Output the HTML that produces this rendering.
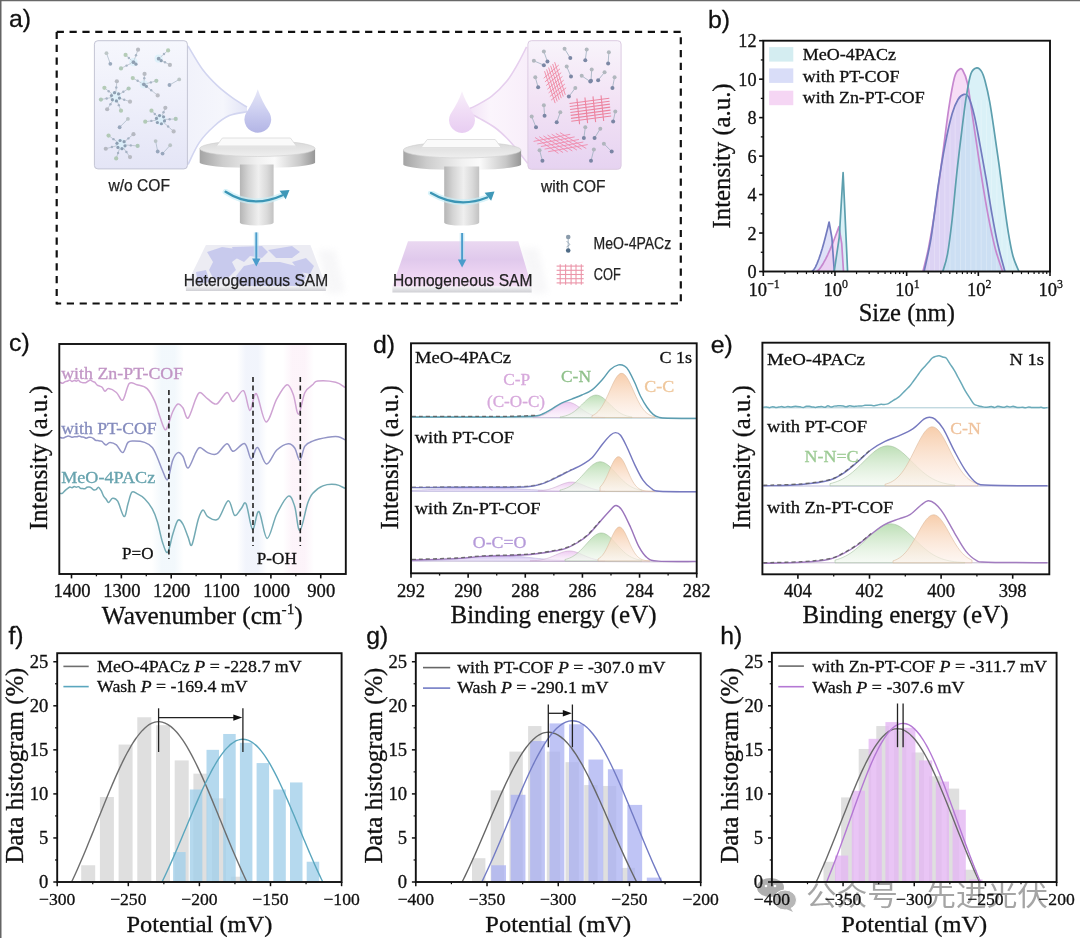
<!DOCTYPE html>
<html><head><meta charset="utf-8"><title>figure</title>
<style>html,body{margin:0;padding:0;background:#fff;overflow:hidden;}svg{display:block;}</style></head>
<body><svg width="1080" height="938" viewBox="0 0 1080 938">
<rect width="1080" height="938" fill="#fff"/>
<g opacity="0.9">
<ellipse cx="770.5" cy="887.5" rx="13.5" ry="9.5" fill="#a6a6a6"/><circle cx="766" cy="886" r="1.3" fill="#fff"/><circle cx="775" cy="886" r="1.3" fill="#fff"/>
<ellipse cx="785" cy="900" rx="11.5" ry="10" fill="#b0b0b0" stroke="#fff" stroke-width="1.0"/><path d="M790,907 L793,912 L786,909 Z" fill="#b0b0b0"/>
<text x="806" y="906" font-size="28" font-family='"Liberation Sans", "Noto Sans CJK SC", sans-serif' fill="#9c9c9c" textLength="242" lengthAdjust="spacingAndGlyphs">公众号 · 先进光伏</text>
</g>
<defs>
<linearGradient id="boxL" x1="0" y1="0" x2="0" y2="1"><stop offset="0" stop-color="#f6f7fd"/><stop offset="0.5" stop-color="#eeeffa"/><stop offset="1" stop-color="#e4e5f6"/></linearGradient>
<linearGradient id="boxR" x1="0" y1="0" x2="0" y2="1"><stop offset="0" stop-color="#f8f4fb"/><stop offset="0.45" stop-color="#f3e3f5"/><stop offset="1" stop-color="#e6d3f1"/></linearGradient>
<linearGradient id="coneL" x1="0" y1="0" x2="1" y2="0"><stop offset="0" stop-color="#f1f2fb"/><stop offset="0.6" stop-color="#f5f6fc"/><stop offset="1" stop-color="#e2e4f6"/></linearGradient>
<linearGradient id="coneR" x1="1" y1="0" x2="0" y2="0"><stop offset="0" stop-color="#f8eefa"/><stop offset="0.6" stop-color="#fbf5fc"/><stop offset="1" stop-color="#f0dff5"/></linearGradient>
<linearGradient id="dropL" x1="0" y1="0" x2="0" y2="1"><stop offset="0" stop-color="#e6e7f7"/><stop offset="0.45" stop-color="#cfd1f1"/><stop offset="0.75" stop-color="#bfc1eb"/><stop offset="1" stop-color="#b3b5e5"/></linearGradient>
<linearGradient id="dropR" x1="0" y1="0" x2="0" y2="1"><stop offset="0" stop-color="#f8f0fa"/><stop offset="0.45" stop-color="#f1def6"/><stop offset="1" stop-color="#e8cdf2"/></linearGradient>
<linearGradient id="metalH" x1="0" y1="0" x2="1" y2="0"><stop offset="0" stop-color="#a4a4a4"/><stop offset="0.2" stop-color="#cdcdcd"/><stop offset="0.5" stop-color="#f1f1f1"/><stop offset="0.65" stop-color="#fafafa"/><stop offset="0.87" stop-color="#c8c8c8"/><stop offset="1" stop-color="#969696"/></linearGradient>
<linearGradient id="shaftH" x1="0" y1="0" x2="1" y2="0"><stop offset="0" stop-color="#b5b5b5"/><stop offset="0.25" stop-color="#d4d4d4"/><stop offset="0.55" stop-color="#efefef"/><stop offset="0.8" stop-color="#dadada"/><stop offset="1" stop-color="#c2c2c2"/></linearGradient>
<linearGradient id="discTop" x1="0" y1="0" x2="0" y2="1"><stop offset="0" stop-color="#d8d8d8"/><stop offset="1" stop-color="#efefef"/></linearGradient>
<linearGradient id="subR" x1="0" y1="0" x2="0" y2="1"><stop offset="0" stop-color="#ead8f1"/><stop offset="0.4" stop-color="#e0c9ec"/><stop offset="0.75" stop-color="#eed5f3"/><stop offset="1" stop-color="#f5def5"/></linearGradient>
<linearGradient id="edgeG" x1="0" y1="0" x2="0" y2="1"><stop offset="0" stop-color="#f4f4f6"/><stop offset="1" stop-color="#cfcfd4"/></linearGradient>
<filter id="soft" x="-20%" y="-20%" width="140%" height="140%"><feGaussianBlur stdDeviation="0.6"/></filter>
<filter id="blur3" x="-30%" y="-30%" width="160%" height="160%"><feGaussianBlur stdDeviation="3"/></filter>
</defs>
<line x1="56.7" y1="31.9" x2="681.8" y2="31.9" stroke="#111" stroke-width="2.2" stroke-dasharray="7.2,5.65"/>
<line x1="56.7" y1="31.9" x2="56.7" y2="304.5" stroke="#111" stroke-width="2.2" stroke-dasharray="7.2,5.65"/>
<line x1="680.8" y1="31.9" x2="680.8" y2="304.5" stroke="#111" stroke-width="2.2" stroke-dasharray="7.2,5.65" stroke-dashoffset="7.6"/>
<line x1="56.7" y1="303.5" x2="681.8" y2="303.5" stroke="#111" stroke-width="2.2" stroke-dasharray="7.2,5.65" stroke-dashoffset="2.75"/>
<path d="M188,46 C190.4,49.88 197.52,62.68 202.4,69.3 C207.28,75.92 212.33,80.97 217.3,85.7 C222.27,90.43 227.25,94.12 232.2,97.7 C237.15,101.28 244.53,105.62 247,107.2 L247,111.8 C244.05,112.43 234.75,113.23 229.3,115.6 C223.85,117.97 219.28,121.53 214.3,126 C209.32,130.47 203.78,135.98 199.4,142.4 C195.02,148.82 189.9,160.82 188,164.5 L187.4,46 Z" fill="url(#coneL)"/>
<path d="M188,46 C190.4,49.88 197.52,62.68 202.4,69.3 C207.28,75.92 212.33,80.97 217.3,85.7 C222.27,90.43 227.25,94.12 232.2,97.7 C237.15,101.28 244.53,105.62 247,107.2" fill="none" stroke="#d2d5f0" stroke-width="1.6" filter="url(#soft)"/>
<path d="M247,111.8 C244.05,112.43 234.75,113.23 229.3,115.6 C223.85,117.97 219.28,121.53 214.3,126 C209.32,130.47 203.78,135.98 199.4,142.4 C195.02,148.82 189.9,160.82 188,164.5" fill="none" stroke="#d2d5f0" stroke-width="1.6" filter="url(#soft)"/>
<rect x="94.4" y="40.7" width="93" height="128.2" rx="3.5" fill="url(#boxL)" stroke="#c3c4d4" stroke-width="1"/>
<g opacity="0.72"><line x1="106.47" y1="53.16" x2="110.34" y2="63.82" stroke="#9fb0bf" stroke-width="0.9"/><circle cx="106.47" cy="53.16" r="1.9" fill="#a9b6b4"/><circle cx="110.34" cy="63.82" r="1.9" fill="#7a8ea6"/><circle cx="133.47" cy="62.16" r="4.1" fill="#d4f0fa" opacity="0.9"/><line x1="131.55" y1="60.41" x2="125.58" y2="54.96" stroke="#a9b6c2" stroke-width="0.9"/><circle cx="128.86" cy="57.96" r="1.2" fill="#8c9db0"/><circle cx="125.58" cy="54.96" r="2.1" fill="#9dbd9d"/><line x1="134.37" y1="59.72" x2="138.04" y2="49.7" stroke="#a9b6c2" stroke-width="0.9"/><circle cx="136.02" cy="55.21" r="1.2" fill="#8c9db0"/><circle cx="138.04" cy="49.7" r="2.1" fill="#a2a6ad"/><line x1="131.15" y1="63.32" x2="121.01" y2="68.39" stroke="#a9b6c2" stroke-width="0.9"/><circle cx="126.59" cy="65.6" r="1.2" fill="#8c9db0"/><circle cx="121.01" cy="68.39" r="2.1" fill="#98b9a0"/><circle cx="133.47" cy="62.16" r="1.9" fill="#6a8197"/><circle cx="135.97" cy="64.16" r="1.6" fill="#6a8197"/><circle cx="158.68" cy="58.7" r="4.1" fill="#d4f0fa" opacity="0.9"/><line x1="160.63" y1="56.98" x2="168.1" y2="50.39" stroke="#a9b6c2" stroke-width="0.9"/><circle cx="163.99" cy="54.01" r="1.2" fill="#8c9db0"/><circle cx="168.1" cy="50.39" r="2.1" fill="#9dbd9d"/><line x1="160.95" y1="59.96" x2="169.9" y2="64.93" stroke="#a9b6c2" stroke-width="0.9"/><circle cx="164.98" cy="62.2" r="1.2" fill="#8c9db0"/><circle cx="169.9" cy="64.93" r="2.1" fill="#a2a6ad"/><circle cx="158.68" cy="58.7" r="1.9" fill="#6a8197"/><circle cx="161.18" cy="60.7" r="1.6" fill="#6a8197"/><circle cx="115.47" cy="96.79" r="5.7" fill="#d4f0fa" opacity="0.9"/><line x1="112.21" y1="94.14" x2="104.39" y2="87.78" stroke="#a9b6c2" stroke-width="0.9"/><circle cx="108.69" cy="91.28" r="1.2" fill="#8c9db0"/><circle cx="104.39" cy="87.78" r="2.1" fill="#9dbd9d"/><line x1="115.84" y1="92.6" x2="116.85" y2="81.27" stroke="#a9b6c2" stroke-width="0.9"/><circle cx="116.3" cy="87.51" r="1.2" fill="#8c9db0"/><circle cx="116.85" cy="81.27" r="2.1" fill="#a2a6ad"/><line x1="119.02" y1="94.54" x2="128.63" y2="88.48" stroke="#a9b6c2" stroke-width="0.9"/><circle cx="123.34" cy="91.81" r="1.2" fill="#8c9db0"/><circle cx="128.63" cy="88.48" r="2.1" fill="#98b9a0"/><line x1="119.45" y1="98.11" x2="130.01" y2="101.63" stroke="#a9b6c2" stroke-width="0.9"/><circle cx="124.2" cy="99.7" r="1.2" fill="#8c9db0"/><circle cx="130.01" cy="101.63" r="2.1" fill="#a6a9ae"/><line x1="117.03" y1="100.69" x2="121.01" y2="110.64" stroke="#a9b6c2" stroke-width="0.9"/><circle cx="118.82" cy="105.16" r="1.2" fill="#8c9db0"/><circle cx="121.01" cy="110.64" r="2.1" fill="#9dbd9d"/><line x1="113.14" y1="100.28" x2="107.16" y2="109.25" stroke="#a9b6c2" stroke-width="0.9"/><circle cx="110.45" cy="104.32" r="1.2" fill="#8c9db0"/><circle cx="107.16" cy="109.25" r="2.1" fill="#a2a6ad"/><line x1="111.34" y1="97.57" x2="100.93" y2="99.56" stroke="#a9b6c2" stroke-width="0.9"/><circle cx="106.65" cy="98.47" r="1.2" fill="#8c9db0"/><circle cx="100.93" cy="99.56" r="2.1" fill="#98b9a0"/><circle cx="119.48" cy="98.03" r="1.6" fill="#6a8197"/><circle cx="116.4" cy="100.88" r="1.6" fill="#6a8197"/><circle cx="112.39" cy="99.64" r="1.6" fill="#6a8197"/><circle cx="111.46" cy="95.55" r="1.6" fill="#6a8197"/><circle cx="114.54" cy="92.69" r="1.6" fill="#6a8197"/><circle cx="118.55" cy="93.93" r="1.6" fill="#6a8197"/><circle cx="143.86" cy="84.32" r="4.1" fill="#d4f0fa" opacity="0.9"/><line x1="141.6" y1="83.05" x2="132.78" y2="78.09" stroke="#a9b6c2" stroke-width="0.9"/><circle cx="137.63" cy="80.82" r="1.2" fill="#8c9db0"/><circle cx="132.78" cy="78.09" r="2.1" fill="#9dbd9d"/><line x1="144.03" y1="81.73" x2="144.55" y2="73.93" stroke="#a9b6c2" stroke-width="0.9"/><circle cx="144.27" cy="78.22" r="1.2" fill="#8c9db0"/><circle cx="144.55" cy="73.93" r="2.1" fill="#a2a6ad"/><line x1="146.37" y1="83.63" x2="156.33" y2="80.86" stroke="#a9b6c2" stroke-width="0.9"/><circle cx="150.85" cy="82.38" r="1.2" fill="#8c9db0"/><circle cx="156.33" cy="80.86" r="2.1" fill="#98b9a0"/><line x1="145.89" y1="85.95" x2="157.71" y2="95.4" stroke="#a9b6c2" stroke-width="0.9"/><circle cx="151.21" cy="90.2" r="1.2" fill="#8c9db0"/><circle cx="157.71" cy="95.4" r="2.1" fill="#a6a9ae"/><circle cx="143.86" cy="84.32" r="1.9" fill="#6a8197"/><circle cx="146.36" cy="86.32" r="1.6" fill="#6a8197"/><line x1="179.18" y1="79.47" x2="169.48" y2="85.01" stroke="#9fb0bf" stroke-width="0.9"/><circle cx="179.18" cy="79.47" r="1.9" fill="#a9b6b4"/><circle cx="169.48" cy="85.01" r="1.9" fill="#7a8ea6"/><circle cx="160.48" cy="119.64" r="5.7" fill="#d4f0fa" opacity="0.9"/><line x1="157.51" y1="116.67" x2="151.48" y2="110.64" stroke="#a9b6c2" stroke-width="0.9"/><circle cx="154.8" cy="113.96" r="1.2" fill="#8c9db0"/><circle cx="151.48" cy="110.64" r="2.1" fill="#9dbd9d"/><line x1="162.08" y1="115.76" x2="165.33" y2="107.87" stroke="#a9b6c2" stroke-width="0.9"/><circle cx="163.54" cy="112.21" r="1.2" fill="#8c9db0"/><circle cx="165.33" cy="107.87" r="2.1" fill="#a2a6ad"/><line x1="164.68" y1="119.45" x2="175.72" y2="118.95" stroke="#a9b6c2" stroke-width="0.9"/><circle cx="169.65" cy="119.22" r="1.2" fill="#8c9db0"/><circle cx="175.72" cy="118.95" r="2.1" fill="#98b9a0"/><line x1="163.61" y1="122.44" x2="173.64" y2="131.41" stroke="#a9b6c2" stroke-width="0.9"/><circle cx="168.12" cy="126.48" r="1.2" fill="#8c9db0"/><circle cx="173.64" cy="131.41" r="2.1" fill="#a6a9ae"/><line x1="156.32" y1="120.21" x2="145.25" y2="121.72" stroke="#a9b6c2" stroke-width="0.9"/><circle cx="151.34" cy="120.89" r="1.2" fill="#8c9db0"/><circle cx="145.25" cy="121.72" r="2.1" fill="#9dbd9d"/><circle cx="164.49" cy="120.88" r="1.6" fill="#6a8197"/><circle cx="161.41" cy="123.74" r="1.6" fill="#6a8197"/><circle cx="157.4" cy="122.49" r="1.6" fill="#6a8197"/><circle cx="156.47" cy="118.4" r="1.6" fill="#6a8197"/><circle cx="159.55" cy="115.54" r="1.6" fill="#6a8197"/><circle cx="163.56" cy="116.79" r="1.6" fill="#6a8197"/><line x1="127.93" y1="118.95" x2="119.62" y2="127.26" stroke="#9fb0bf" stroke-width="0.9"/><circle cx="127.93" cy="118.95" r="1.9" fill="#a9b6b4"/><circle cx="119.62" cy="127.26" r="1.9" fill="#7a8ea6"/><circle cx="121.01" cy="144.57" r="5.7" fill="#d4f0fa" opacity="0.9"/><line x1="117.6" y1="142.11" x2="108.54" y2="135.57" stroke="#a9b6c2" stroke-width="0.9"/><circle cx="113.53" cy="139.17" r="1.2" fill="#8c9db0"/><circle cx="108.54" cy="135.57" r="2.1" fill="#9dbd9d"/><line x1="124.23" y1="141.88" x2="133.47" y2="134.18" stroke="#a9b6c2" stroke-width="0.9"/><circle cx="128.39" cy="138.42" r="1.2" fill="#8c9db0"/><circle cx="133.47" cy="134.18" r="2.1" fill="#a2a6ad"/><line x1="125.19" y1="144.92" x2="137.63" y2="145.96" stroke="#a9b6c2" stroke-width="0.9"/><circle cx="130.79" cy="145.39" r="1.2" fill="#8c9db0"/><circle cx="137.63" cy="145.96" r="2.1" fill="#98b9a0"/><line x1="123.47" y1="147.98" x2="130.01" y2="157.04" stroke="#a9b6c2" stroke-width="0.9"/><circle cx="126.41" cy="152.05" r="1.2" fill="#8c9db0"/><circle cx="130.01" cy="157.04" r="2.1" fill="#a6a9ae"/><line x1="119.62" y1="148.53" x2="116.16" y2="158.42" stroke="#a9b6c2" stroke-width="0.9"/><circle cx="118.06" cy="152.98" r="1.2" fill="#8c9db0"/><circle cx="116.16" cy="158.42" r="2.1" fill="#9dbd9d"/><line x1="116.96" y1="145.68" x2="105.77" y2="148.73" stroke="#a9b6c2" stroke-width="0.9"/><circle cx="111.92" cy="147.05" r="1.2" fill="#8c9db0"/><circle cx="105.77" cy="148.73" r="2.1" fill="#a2a6ad"/><circle cx="125.02" cy="145.81" r="1.6" fill="#6a8197"/><circle cx="121.94" cy="148.67" r="1.6" fill="#6a8197"/><circle cx="117.93" cy="147.42" r="1.6" fill="#6a8197"/><circle cx="117" cy="143.33" r="1.6" fill="#6a8197"/><circle cx="120.08" cy="140.48" r="1.6" fill="#6a8197"/><circle cx="124.09" cy="141.72" r="1.6" fill="#6a8197"/><line x1="155.63" y1="141.11" x2="157.71" y2="151.5" stroke="#9fb0bf" stroke-width="0.9"/><circle cx="155.63" cy="141.11" r="1.9" fill="#a9b6b4"/><circle cx="157.71" cy="151.5" r="1.9" fill="#7a8ea6"/><line x1="170.18" y1="145.26" x2="162.56" y2="153.57" stroke="#9fb0bf" stroke-width="0.9"/><circle cx="170.18" cy="145.26" r="1.9" fill="#a9b6b4"/><circle cx="162.56" cy="153.57" r="1.9" fill="#7a8ea6"/></g>
<path d="M257.8,89.3 Q261.15,100.16 269.8,113.43 A13.4,13.4 0 1 1 245.8,113.43 Q254.45,100.16 257.8,89.3 Z" fill="url(#dropL)" filter="url(#soft)"/>
<path d="M199.7,148.5 L199.7,162.5 A57.7,5.5 0 0 0 315.1,162.5 L315.1,148.5 Z" fill="url(#metalH)"/>
<ellipse cx="257.4" cy="148.5" rx="57.7" ry="8" fill="url(#discTop)" stroke="#cfcfcf" stroke-width="0.6"/>
<path d="M222.4,138 L290.4,138 L296.4,146 L216.4,146 Z" fill="#fafafa" stroke="#d9d9d9" stroke-width="0.8"/>
<path d="M216.4,146 L296.4,146 L296.4,147.8 L216.4,147.8 Z" fill="#e4e4e4"/>
<path d="M239.9,164.5 L239.9,222.5 A16.85,3 0 0 0 273.6,222.5 L273.6,164.5 Z" fill="url(#shaftH)"/>
<path d="M225.6,191.8 Q252,209 282,195.5" fill="none" stroke="#c9eef7" stroke-width="6" stroke-linecap="round" opacity="0.7" filter="url(#soft)"/>
<path d="M225.6,191.8 Q252,209 282,195.5" fill="none" stroke="#3b95b5" stroke-width="2.3" stroke-linecap="round"/>
<path d="M289.5,190 L285.72,199.22 L279.57,190.83 Z" fill="#3f98b8"/>
<path d="M318,250 L335,250 L345,292 L328,294 Z" fill="#e8e8ec" opacity="0.35" filter="url(#blur3)"/>
<path d="M185.9,286 L325.9,286 L325.9,291 L185.9,291 Z" fill="url(#edgeG)"/>
<path d="M205.9,245 L310.4,245 L325.9,286 L185.9,286 Z" fill="#ececf3"/>
<g fill="#c7c9ed" opacity="0.95"><path d="M207,252 L222,247 L236,249 L240,256 L232,262 L236,270 L228,278 L214,280 L209,270 L213,262 Z"/><path d="M232,247 L262,246 L268,252 L262,258 L250,256 L244,262 L236,258 Z"/><path d="M244,266 L262,262 L280,262 L296,266 L306,276 L302,286 L240,286 L236,276 Z"/><path d="M268,250 L292,246 L300,252 L292,258 L276,258 Z"/><path d="M292,262 L306,258 L314,266 L310,274 L300,272 Z"/><path d="M196,272 L206,270 L210,282 L198,284 Z"/></g>
<line x1="256.3" y1="232.4" x2="256.3" y2="259.5" stroke="#bfe3f3" stroke-width="5" opacity="0.6"/>
<line x1="256.3" y1="232.4" x2="256.3" y2="259.5" stroke="#4a9ccb" stroke-width="1.9"/>
<path d="M256.3,266.5 L252.1,258.5 L260.5,258.5 Z" fill="#4a9ccb"/>
<path d="M526.6,46.9 C525.03,49.9 520.52,59.17 517.2,64.9 C513.88,70.63 510.93,76.08 506.7,81.3 C502.47,86.52 496.77,92.23 491.8,96.2 C486.83,100.17 481.28,102.77 476.9,105.1 C472.52,107.43 467.4,109.35 465.5,110.2 L465.5,111.2 C467.9,112.43 475.02,115.88 479.9,118.6 C484.78,121.32 490.33,124.27 494.8,127.5 C499.27,130.73 502.97,134.27 506.7,138 C510.43,141.73 513.72,145.67 517.2,149.9 C520.68,154.13 525.87,161.15 527.6,163.4 L528.4,46.9 Z" fill="url(#coneR)"/>
<path d="M526.6,46.9 C525.03,49.9 520.52,59.17 517.2,64.9 C513.88,70.63 510.93,76.08 506.7,81.3 C502.47,86.52 496.77,92.23 491.8,96.2 C486.83,100.17 481.28,102.77 476.9,105.1 C472.52,107.43 467.4,109.35 465.5,110.2" fill="none" stroke="#e6cfee" stroke-width="1.6" filter="url(#soft)"/>
<path d="M465.5,111.2 C467.9,112.43 475.02,115.88 479.9,118.6 C484.78,121.32 490.33,124.27 494.8,127.5 C499.27,130.73 502.97,134.27 506.7,138 C510.43,141.73 513.72,145.67 517.2,149.9 C520.68,154.13 525.87,161.15 527.6,163.4" fill="none" stroke="#e6cfee" stroke-width="1.6" filter="url(#soft)"/>
<rect x="527.9" y="40.7" width="93.2" height="128.6" rx="3.5" fill="url(#boxR)" stroke="#dccbe2" stroke-width="1"/>
<g opacity="0.85"><line x1="544.55" y1="71.16" x2="555.18" y2="103.12" stroke="#ee7894" stroke-width="0.9"/><line x1="546.58" y1="69.36" x2="557.21" y2="101.46" stroke="#ee7894" stroke-width="0.9"/><line x1="548.6" y1="67.56" x2="559.23" y2="99.81" stroke="#ee7894" stroke-width="0.9"/><line x1="550.63" y1="65.76" x2="561.25" y2="98.16" stroke="#ee7894" stroke-width="0.9"/><line x1="552.65" y1="63.96" x2="563.28" y2="96.51" stroke="#ee7894" stroke-width="0.9"/><line x1="554.67" y1="62.16" x2="565.3" y2="94.85" stroke="#ee7894" stroke-width="0.9"/><line x1="543.73" y1="78.26" x2="558.78" y2="65.04" stroke="#ee7894" stroke-width="0.9"/><line x1="544.95" y1="81.92" x2="560.01" y2="68.82" stroke="#ee7894" stroke-width="0.9"/><line x1="546.18" y1="85.58" x2="561.23" y2="72.61" stroke="#ee7894" stroke-width="0.9"/><line x1="547.4" y1="89.24" x2="562.46" y2="76.4" stroke="#ee7894" stroke-width="0.9"/><line x1="548.62" y1="92.9" x2="563.68" y2="80.19" stroke="#ee7894" stroke-width="0.9"/><line x1="549.85" y1="96.57" x2="564.91" y2="83.98" stroke="#ee7894" stroke-width="0.9"/><line x1="551.07" y1="100.23" x2="566.13" y2="87.76" stroke="#ee7894" stroke-width="0.9"/><line x1="576.9" y1="98.55" x2="579.56" y2="124.24" stroke="#ec7592" stroke-width="1.1"/><line x1="584.94" y1="97.48" x2="587.6" y2="123.16" stroke="#ec7592" stroke-width="1.1"/><line x1="592.98" y1="96.41" x2="595.63" y2="122.09" stroke="#ec7592" stroke-width="1.1"/><line x1="601.01" y1="95.34" x2="603.67" y2="121.02" stroke="#ec7592" stroke-width="1.1"/><line x1="569.44" y1="103.57" x2="609.3" y2="98.25" stroke="#ec7592" stroke-width="1.1"/><line x1="569.74" y1="106.52" x2="609.6" y2="101.21" stroke="#ec7592" stroke-width="1.1"/><line x1="570.05" y1="109.48" x2="609.91" y2="104.17" stroke="#ec7592" stroke-width="1.1"/><line x1="570.36" y1="112.44" x2="610.21" y2="107.13" stroke="#ec7592" stroke-width="1.1"/><line x1="570.66" y1="115.4" x2="610.52" y2="110.09" stroke="#ec7592" stroke-width="1.1"/><line x1="570.97" y1="118.36" x2="610.83" y2="113.05" stroke="#ec7592" stroke-width="1.1"/><line x1="571.28" y1="121.32" x2="611.13" y2="116.01" stroke="#ec7592" stroke-width="1.1"/><line x1="535.12" y1="137.48" x2="558.41" y2="153.42" stroke="#f07ea0" stroke-width="0.9"/><line x1="539.26" y1="136.66" x2="563.05" y2="152.6" stroke="#f07ea0" stroke-width="0.9"/><line x1="543.39" y1="135.84" x2="567.69" y2="151.79" stroke="#f07ea0" stroke-width="0.9"/><line x1="547.53" y1="135.03" x2="572.33" y2="150.97" stroke="#f07ea0" stroke-width="0.9"/><line x1="551.66" y1="134.21" x2="576.97" y2="150.16" stroke="#f07ea0" stroke-width="0.9"/><line x1="555.8" y1="133.4" x2="581.61" y2="149.34" stroke="#f07ea0" stroke-width="0.9"/><line x1="559.93" y1="132.58" x2="586.25" y2="148.52" stroke="#f07ea0" stroke-width="0.9"/><line x1="533.59" y1="141.4" x2="570.26" y2="134.31" stroke="#f07ea0" stroke-width="0.9"/><line x1="537.24" y1="143.97" x2="574.62" y2="136.89" stroke="#f07ea0" stroke-width="0.9"/><line x1="540.89" y1="146.54" x2="578.97" y2="139.46" stroke="#f07ea0" stroke-width="0.9"/><line x1="544.53" y1="149.11" x2="583.33" y2="142.03" stroke="#f07ea0" stroke-width="0.9"/><line x1="548.18" y1="151.69" x2="587.68" y2="144.6" stroke="#f07ea0" stroke-width="0.9"/></g>
<g opacity="0.9"><line x1="543.86" y1="51.57" x2="547.43" y2="61.57" stroke="#9fb0bf" stroke-width="0.9"/><circle cx="543.86" cy="51.57" r="2" fill="#aab2b8"/><circle cx="547.43" cy="61.57" r="2" fill="#6f7d9c"/><line x1="533.86" y1="60.86" x2="543.86" y2="65.14" stroke="#9fb0bf" stroke-width="0.9"/><circle cx="533.86" cy="60.86" r="2" fill="#aab2b8"/><circle cx="543.86" cy="65.14" r="2" fill="#6f7d9c"/><line x1="564.57" y1="48.71" x2="570.29" y2="58" stroke="#9fb0bf" stroke-width="0.9"/><circle cx="564.57" cy="48.71" r="2" fill="#aab2b8"/><circle cx="570.29" cy="58" r="2" fill="#6f7d9c"/><line x1="586.71" y1="49.43" x2="585.29" y2="60.14" stroke="#9fb0bf" stroke-width="0.9"/><circle cx="586.71" cy="49.43" r="2" fill="#aab2b8"/><circle cx="585.29" cy="60.14" r="2" fill="#6f7d9c"/><line x1="608.86" y1="52.29" x2="608.14" y2="63.43" stroke="#9fb0bf" stroke-width="0.9"/><circle cx="608.86" cy="52.29" r="2" fill="#aab2b8"/><circle cx="608.14" cy="63.43" r="2" fill="#6f7d9c"/><line x1="566.71" y1="66.57" x2="571" y2="76.57" stroke="#9fb0bf" stroke-width="0.9"/><circle cx="566.71" cy="66.57" r="2" fill="#aab2b8"/><circle cx="571" cy="76.57" r="2" fill="#6f7d9c"/><line x1="591.71" y1="69.43" x2="591" y2="80.86" stroke="#9fb0bf" stroke-width="0.9"/><circle cx="591.71" cy="69.43" r="2" fill="#aab2b8"/><circle cx="591" cy="80.86" r="2" fill="#6f7d9c"/><line x1="581.71" y1="75.86" x2="590.29" y2="81.57" stroke="#9fb0bf" stroke-width="0.9"/><circle cx="581.71" cy="75.86" r="2" fill="#aab2b8"/><circle cx="590.29" cy="81.57" r="2" fill="#6f7d9c"/><line x1="604.57" y1="72.29" x2="598.14" y2="80.14" stroke="#9fb0bf" stroke-width="0.9"/><circle cx="604.57" cy="72.29" r="2" fill="#aab2b8"/><circle cx="598.14" cy="80.14" r="2" fill="#6f7d9c"/><line x1="535.29" y1="77.29" x2="538.14" y2="87.29" stroke="#9fb0bf" stroke-width="0.9"/><circle cx="535.29" cy="77.29" r="2" fill="#aab2b8"/><circle cx="538.14" cy="87.29" r="2" fill="#6f7d9c"/><line x1="614.57" y1="77.29" x2="612.43" y2="88" stroke="#9fb0bf" stroke-width="0.9"/><circle cx="614.57" cy="77.29" r="2" fill="#aab2b8"/><circle cx="612.43" cy="88" r="2" fill="#6f7d9c"/><line x1="575.29" y1="88" x2="568.86" y2="96.57" stroke="#9fb0bf" stroke-width="0.9"/><circle cx="575.29" cy="88" r="2" fill="#aab2b8"/><circle cx="568.86" cy="96.57" r="2" fill="#6f7d9c"/><line x1="543.86" y1="105.14" x2="544.57" y2="115.86" stroke="#9fb0bf" stroke-width="0.9"/><circle cx="543.86" cy="105.14" r="2" fill="#aab2b8"/><circle cx="544.57" cy="115.86" r="2" fill="#6f7d9c"/><line x1="560.29" y1="112.29" x2="556.71" y2="122.29" stroke="#9fb0bf" stroke-width="0.9"/><circle cx="560.29" cy="112.29" r="2" fill="#aab2b8"/><circle cx="556.71" cy="122.29" r="2" fill="#6f7d9c"/><line x1="531.71" y1="116.57" x2="536" y2="127.29" stroke="#9fb0bf" stroke-width="0.9"/><circle cx="531.71" cy="116.57" r="2" fill="#aab2b8"/><circle cx="536" cy="127.29" r="2" fill="#6f7d9c"/><line x1="615.29" y1="111.57" x2="613.14" y2="121.57" stroke="#9fb0bf" stroke-width="0.9"/><circle cx="615.29" cy="111.57" r="2" fill="#aab2b8"/><circle cx="613.14" cy="121.57" r="2" fill="#6f7d9c"/><line x1="585.29" y1="127.29" x2="583.86" y2="138" stroke="#9fb0bf" stroke-width="0.9"/><circle cx="585.29" cy="127.29" r="2" fill="#aab2b8"/><circle cx="583.86" cy="138" r="2" fill="#6f7d9c"/><line x1="600.29" y1="128.71" x2="594.57" y2="138" stroke="#9fb0bf" stroke-width="0.9"/><circle cx="600.29" cy="128.71" r="2" fill="#aab2b8"/><circle cx="594.57" cy="138" r="2" fill="#6f7d9c"/><line x1="603.86" y1="143.71" x2="611.71" y2="151.57" stroke="#9fb0bf" stroke-width="0.9"/><circle cx="603.86" cy="143.71" r="2" fill="#aab2b8"/><circle cx="611.71" cy="151.57" r="2" fill="#6f7d9c"/><line x1="539.57" y1="150.14" x2="542.43" y2="160.86" stroke="#9fb0bf" stroke-width="0.9"/><circle cx="539.57" cy="150.14" r="2" fill="#aab2b8"/><circle cx="542.43" cy="160.86" r="2" fill="#6f7d9c"/><line x1="593.86" y1="149.43" x2="591" y2="160.86" stroke="#9fb0bf" stroke-width="0.9"/><circle cx="593.86" cy="149.43" r="2" fill="#aab2b8"/><circle cx="591" cy="160.86" r="2" fill="#6f7d9c"/></g>
<path d="M462,91.2 Q465.25,101.52 473.6,114.13 A13,13 0 1 1 450.4,114.13 Q458.75,101.52 462,91.2 Z" fill="url(#dropR)" filter="url(#soft)"/>
<path d="M403.3,150 L403.3,164.5 A58.9,5.5 0 0 0 521.1,164.5 L521.1,150 Z" fill="url(#metalH)"/>
<ellipse cx="462.2" cy="150" rx="58.9" ry="8" fill="url(#discTop)" stroke="#cfcfcf" stroke-width="0.6"/>
<path d="M427.2,139.5 L495.2,139.5 L501.2,147.5 L421.2,147.5 Z" fill="#fafafa" stroke="#d9d9d9" stroke-width="0.8"/>
<path d="M421.2,147.5 L501.2,147.5 L501.2,149.3 L421.2,149.3 Z" fill="#e4e4e4"/>
<path d="M444.2,166.5 L444.2,222.6 A17.5,3 0 0 0 479.2,222.6 L479.2,166.5 Z" fill="url(#shaftH)"/>
<path d="M431,193 Q458,209 487,197.5" fill="none" stroke="#c9eef7" stroke-width="6" stroke-linecap="round" opacity="0.7" filter="url(#soft)"/>
<path d="M431,193 Q458,209 487,197.5" fill="none" stroke="#3b95b5" stroke-width="2.3" stroke-linecap="round"/>
<path d="M494.5,191.5 L491.11,200.87 L484.61,192.75 Z" fill="#3f98b8"/>
<path d="M520,248 L538,248 L548,292 L532,294 Z" fill="#e8e8ec" opacity="0.35" filter="url(#blur3)"/>
<path d="M392.4,286.5 L531.7,286.5 L531.7,292.4 L392.4,292.4 Z" fill="url(#edgeG)"/>
<path d="M408,241.3 L518.3,241.3 L531.7,286.5 L392.4,286.5 Z" fill="url(#subR)"/>
<line x1="462.1" y1="233" x2="462.1" y2="260.5" stroke="#bfe3f3" stroke-width="5" opacity="0.6"/>
<line x1="462.1" y1="233" x2="462.1" y2="260.5" stroke="#4a9ccb" stroke-width="1.9"/>
<path d="M462.1,267.5 L457.9,259.5 L466.3,259.5 Z" fill="#4a9ccb"/>
<line x1="568.2" y1="237" x2="568.2" y2="250.5" stroke="#9fb0bf" stroke-width="0.9"/><circle cx="568.2" cy="237" r="2.3" fill="#8a9bab"/><circle cx="568.2" cy="250.5" r="2.3" fill="#4f6b86"/>
<line x1="566.5" y1="241" x2="570" y2="244.5" stroke="#8fa0b0" stroke-width="0.8"/><line x1="570" y1="244.5" x2="566.5" y2="247" stroke="#8fa0b0" stroke-width="0.8"/>
<g opacity="0.9"><line x1="560.2" y1="264.3" x2="560.2" y2="284.8" stroke="#e98aa0" stroke-width="1.1"/><line x1="565.6" y1="264.3" x2="565.6" y2="284.8" stroke="#e98aa0" stroke-width="1.1"/><line x1="571.1" y1="264.3" x2="571.1" y2="284.8" stroke="#e98aa0" stroke-width="1.1"/><line x1="576" y1="264.3" x2="576" y2="284.8" stroke="#e98aa0" stroke-width="1.1"/><line x1="581.3" y1="264.3" x2="581.3" y2="284.8" stroke="#e98aa0" stroke-width="1.1"/><line x1="556.6" y1="266.1" x2="583.7" y2="266.1" stroke="#e98aa0" stroke-width="1.1"/><line x1="556.6" y1="270.3" x2="583.7" y2="270.3" stroke="#e98aa0" stroke-width="1.1"/><line x1="556.6" y1="274.5" x2="583.7" y2="274.5" stroke="#e98aa0" stroke-width="1.1"/><line x1="556.6" y1="278.7" x2="583.7" y2="278.7" stroke="#e98aa0" stroke-width="1.1"/><line x1="556.6" y1="282.9" x2="583.7" y2="282.9" stroke="#e98aa0" stroke-width="1.1"/></g>
<text transform="translate(108.5,191.2)" font-size="16.3" text-anchor="start" font-family='"Liberation Sans", Arial, sans-serif' fill="#222" textLength="61.5" lengthAdjust="spacingAndGlyphs" stroke="#222" stroke-width="0.25">w/o COF</text>
<text transform="translate(541,191.8)" font-size="16.3" text-anchor="start" font-family='"Liberation Sans", Arial, sans-serif' fill="#222" textLength="64.6" lengthAdjust="spacingAndGlyphs" stroke="#222" stroke-width="0.25">with COF</text>
<text transform="translate(183.7,285.5)" font-size="16.5" text-anchor="start" font-family='"Liberation Sans", Arial, sans-serif' fill="#222" textLength="144.4" lengthAdjust="spacingAndGlyphs" stroke="#222" stroke-width="0.25">Heterogeneous SAM</text>
<text transform="translate(393.1,285.5)" font-size="16.5" text-anchor="start" font-family='"Liberation Sans", Arial, sans-serif' fill="#222" textLength="139.3" lengthAdjust="spacingAndGlyphs" stroke="#222" stroke-width="0.25">Homogeneous SAM</text>
<text transform="translate(593.6,248.6)" font-size="16" text-anchor="start" font-family='"Liberation Sans", Arial, sans-serif' fill="#222" textLength="77.6" lengthAdjust="spacingAndGlyphs" stroke="#222" stroke-width="0.25">MeO-4PACz</text>
<text transform="translate(593.8,280)" font-size="16" text-anchor="start" font-family='"Liberation Sans", Arial, sans-serif' fill="#222" textLength="27" lengthAdjust="spacingAndGlyphs" stroke="#222" stroke-width="0.25">COF</text>
<rect x="769.1" y="47.1" width="24.2" height="14.5" fill="#d4edf1"/>
<rect x="769.1" y="68.4" width="24.2" height="14.5" fill="#d9ddf8"/>
<rect x="769.1" y="90.7" width="24.2" height="14.5" fill="#f5d6f4"/>
<path d="M922.9,271.5 C923.87,267.45 926.55,258.28 928.7,247.2 C930.85,236.12 933.45,220.63 935.8,205 C938.15,189.37 940.65,169.42 942.8,153.4 C944.95,137.38 946.75,121.58 948.7,108.9 C950.65,96.22 952.75,83.87 954.5,77.3 C956.25,70.73 957.83,70.68 959.2,69.5 C960.57,68.32 961.33,67.93 962.7,70.2 C964.07,72.47 965.83,75.87 967.4,83.1 C968.97,90.33 970.33,101.88 972.1,113.6 C973.87,125.32 976.05,140.52 978,153.4 C979.95,166.28 981.85,179.18 983.8,190.9 C985.75,202.62 987.75,213.93 989.7,223.7 C991.65,233.47 993.35,241.53 995.5,249.5 C997.65,257.47 1001.42,267.83 1002.6,271.5 Z" fill="#f2c6f0" fill-opacity="0.6"/>
<path d="M924.1,271.5 C925.27,265.88 928.77,252.02 931.1,237.8 C933.43,223.58 935.75,201.82 938.1,186.2 C940.45,170.58 942.85,156.2 945.2,144.1 C947.55,132 950.07,121.03 952.2,113.6 C954.33,106.17 956.05,102.7 958,99.5 C959.95,96.3 962.13,94.78 963.9,94.4 C965.67,94.02 966.85,93.62 968.6,97.2 C970.35,100.78 972.45,107.7 974.4,115.9 C976.35,124.1 978.33,135.85 980.3,146.4 C982.27,156.95 984.25,167.87 986.2,179.2 C988.15,190.53 990.05,203.47 992,214.4 C993.95,225.33 995.75,235.28 997.9,244.8 C1000.05,254.32 1003.73,267.05 1004.9,271.5 Z" fill="#c9cdf4" fill-opacity="0.6"/>
<path d="M942.8,271.5 C943.58,268.62 945.93,262.95 947.5,254.2 C949.07,245.45 950.63,232.67 952.2,219 C953.77,205.33 955.33,186.65 956.9,172.2 C958.47,157.75 960.05,144.8 961.6,132.3 C963.15,119.8 964.65,106.97 966.2,97.2 C967.75,87.43 969.13,78.58 970.9,73.7 C972.67,68.82 975.03,68.28 976.8,67.9 C978.57,67.52 980.13,69.25 981.5,71.4 C982.87,73.55 983.63,75.72 985,80.8 C986.37,85.88 988.13,93.32 989.7,101.9 C991.27,110.48 992.83,121.77 994.4,132.3 C995.97,142.83 997.55,153.77 999.1,165.1 C1000.65,176.43 1002.15,188.97 1003.7,200.3 C1005.25,211.63 1006.83,223.73 1008.4,233.1 C1009.97,242.47 1011.33,250.1 1013.1,256.5 C1014.87,262.9 1018.02,269 1019,271.5 Z" fill="#c2e7f1" fill-opacity="0.6"/>
<path d="M812,271.5 L813.71,269.93 L815.42,267.07 L817.13,263.37 L818.84,258.98 L820.55,254 L822.26,248.49 L823.97,242.51 L825.68,236.08 L827.39,229.24 L829.1,222 L831.9,237.8 L834.3,271.5 Z" fill="#c9cdf4" fill-opacity="0.6"/>
<path d="M816.7,271.5 L818.92,269.72 L821.14,266.79 L823.36,263.2 L825.58,259.08 L827.8,254.52 L830.02,249.59 L832.24,244.31 L834.46,238.72 L836.68,232.84 L838.9,226.7 L841.7,243.3 L843.5,271.5 Z" fill="#f2c6f0" fill-opacity="0.6"/>
<path d="M834.2,271.5 L839.3,236.8 L843.1,172.6 L847.6,271.5 Z" fill="#c2e7f1" fill-opacity="0.6"/>
<line x1="924" y1="100" x2="924" y2="271.5" stroke="#ffffff" stroke-width="0.7" opacity="0.35"/>
<line x1="929.2" y1="100" x2="929.2" y2="271.5" stroke="#ffffff" stroke-width="0.7" opacity="0.35"/>
<line x1="934.4" y1="100" x2="934.4" y2="271.5" stroke="#ffffff" stroke-width="0.7" opacity="0.35"/>
<line x1="939.6" y1="100" x2="939.6" y2="271.5" stroke="#ffffff" stroke-width="0.7" opacity="0.35"/>
<line x1="944.8" y1="100" x2="944.8" y2="271.5" stroke="#ffffff" stroke-width="0.7" opacity="0.35"/>
<line x1="950" y1="100" x2="950" y2="271.5" stroke="#ffffff" stroke-width="0.7" opacity="0.35"/>
<line x1="955.2" y1="100" x2="955.2" y2="271.5" stroke="#ffffff" stroke-width="0.7" opacity="0.35"/>
<line x1="960.4" y1="100" x2="960.4" y2="271.5" stroke="#ffffff" stroke-width="0.7" opacity="0.35"/>
<line x1="965.6" y1="100" x2="965.6" y2="271.5" stroke="#ffffff" stroke-width="0.7" opacity="0.35"/>
<line x1="970.8" y1="100" x2="970.8" y2="271.5" stroke="#ffffff" stroke-width="0.7" opacity="0.35"/>
<line x1="976" y1="100" x2="976" y2="271.5" stroke="#ffffff" stroke-width="0.7" opacity="0.35"/>
<line x1="981.2" y1="100" x2="981.2" y2="271.5" stroke="#ffffff" stroke-width="0.7" opacity="0.35"/>
<line x1="986.4" y1="100" x2="986.4" y2="271.5" stroke="#ffffff" stroke-width="0.7" opacity="0.35"/>
<line x1="991.6" y1="100" x2="991.6" y2="271.5" stroke="#ffffff" stroke-width="0.7" opacity="0.35"/>
<line x1="996.8" y1="100" x2="996.8" y2="271.5" stroke="#ffffff" stroke-width="0.7" opacity="0.35"/>
<line x1="1002" y1="100" x2="1002" y2="271.5" stroke="#ffffff" stroke-width="0.7" opacity="0.35"/>
<line x1="1007.2" y1="100" x2="1007.2" y2="271.5" stroke="#ffffff" stroke-width="0.7" opacity="0.35"/>
<line x1="1012.4" y1="100" x2="1012.4" y2="271.5" stroke="#ffffff" stroke-width="0.7" opacity="0.35"/>
<line x1="1017.6" y1="100" x2="1017.6" y2="271.5" stroke="#ffffff" stroke-width="0.7" opacity="0.35"/>
<path d="M922.9,271.5 C923.87,267.45 926.55,258.28 928.7,247.2 C930.85,236.12 933.45,220.63 935.8,205 C938.15,189.37 940.65,169.42 942.8,153.4 C944.95,137.38 946.75,121.58 948.7,108.9 C950.65,96.22 952.75,83.87 954.5,77.3 C956.25,70.73 957.83,70.68 959.2,69.5 C960.57,68.32 961.33,67.93 962.7,70.2 C964.07,72.47 965.83,75.87 967.4,83.1 C968.97,90.33 970.33,101.88 972.1,113.6 C973.87,125.32 976.05,140.52 978,153.4 C979.95,166.28 981.85,179.18 983.8,190.9 C985.75,202.62 987.75,213.93 989.7,223.7 C991.65,233.47 993.35,241.53 995.5,249.5 C997.65,257.47 1001.42,267.83 1002.6,271.5" fill="none" stroke="#c687cf" stroke-width="1.7" stroke-linejoin="round"/>
<path d="M924.1,271.5 C925.27,265.88 928.77,252.02 931.1,237.8 C933.43,223.58 935.75,201.82 938.1,186.2 C940.45,170.58 942.85,156.2 945.2,144.1 C947.55,132 950.07,121.03 952.2,113.6 C954.33,106.17 956.05,102.7 958,99.5 C959.95,96.3 962.13,94.78 963.9,94.4 C965.67,94.02 966.85,93.62 968.6,97.2 C970.35,100.78 972.45,107.7 974.4,115.9 C976.35,124.1 978.33,135.85 980.3,146.4 C982.27,156.95 984.25,167.87 986.2,179.2 C988.15,190.53 990.05,203.47 992,214.4 C993.95,225.33 995.75,235.28 997.9,244.8 C1000.05,254.32 1003.73,267.05 1004.9,271.5" fill="none" stroke="#737bbf" stroke-width="1.7" stroke-linejoin="round"/>
<path d="M942.8,271.5 C943.58,268.62 945.93,262.95 947.5,254.2 C949.07,245.45 950.63,232.67 952.2,219 C953.77,205.33 955.33,186.65 956.9,172.2 C958.47,157.75 960.05,144.8 961.6,132.3 C963.15,119.8 964.65,106.97 966.2,97.2 C967.75,87.43 969.13,78.58 970.9,73.7 C972.67,68.82 975.03,68.28 976.8,67.9 C978.57,67.52 980.13,69.25 981.5,71.4 C982.87,73.55 983.63,75.72 985,80.8 C986.37,85.88 988.13,93.32 989.7,101.9 C991.27,110.48 992.83,121.77 994.4,132.3 C995.97,142.83 997.55,153.77 999.1,165.1 C1000.65,176.43 1002.15,188.97 1003.7,200.3 C1005.25,211.63 1006.83,223.73 1008.4,233.1 C1009.97,242.47 1011.33,250.1 1013.1,256.5 C1014.87,262.9 1018.02,269 1019,271.5" fill="none" stroke="#5d9fae" stroke-width="1.7" stroke-linejoin="round"/>
<path d="M816.7,271.5 L818.92,269.72 L821.14,266.79 L823.36,263.2 L825.58,259.08 L827.8,254.52 L830.02,249.59 L832.24,244.31 L834.46,238.72 L836.68,232.84 L838.9,226.7 L841.7,243.3 L843.5,271.5" fill="none" stroke="#c687cf" stroke-width="1.7" stroke-linejoin="round"/>
<path d="M812,271.5 L813.71,269.93 L815.42,267.07 L817.13,263.37 L818.84,258.98 L820.55,254 L822.26,248.49 L823.97,242.51 L825.68,236.08 L827.39,229.24 L829.1,222 L831.9,237.8 L834.3,271.5" fill="none" stroke="#737bbf" stroke-width="1.7" stroke-linejoin="round"/>
<path d="M834.2,271.5 L839.3,236.8 L843.1,172.6 L847.6,271.5" fill="none" stroke="#5d9fae" stroke-width="1.7" stroke-linejoin="round"/>
<rect x="763.3" y="40.7" width="286.7" height="230.8" fill="none" stroke="#111" stroke-width="1.9"/>
<line x1="759.1" y1="271.5" x2="763.3" y2="271.5" stroke="#111" stroke-width="1.6"/>
<text transform="translate(756.6,278) scale(0.95,1)" font-size="19.2" text-anchor="end" font-family='"Liberation Serif", "Times New Roman", serif' fill="#111" stroke="#111" stroke-width="0.3">0</text>
<line x1="760.8" y1="252.27" x2="763.3" y2="252.27" stroke="#111" stroke-width="1.3"/>
<line x1="759.1" y1="233.03" x2="763.3" y2="233.03" stroke="#111" stroke-width="1.6"/>
<text transform="translate(756.6,239.53) scale(0.95,1)" font-size="19.2" text-anchor="end" font-family='"Liberation Serif", "Times New Roman", serif' fill="#111" stroke="#111" stroke-width="0.3">2</text>
<line x1="760.8" y1="213.8" x2="763.3" y2="213.8" stroke="#111" stroke-width="1.3"/>
<line x1="759.1" y1="194.57" x2="763.3" y2="194.57" stroke="#111" stroke-width="1.6"/>
<text transform="translate(756.6,201.07) scale(0.95,1)" font-size="19.2" text-anchor="end" font-family='"Liberation Serif", "Times New Roman", serif' fill="#111" stroke="#111" stroke-width="0.3">4</text>
<line x1="760.8" y1="175.33" x2="763.3" y2="175.33" stroke="#111" stroke-width="1.3"/>
<line x1="759.1" y1="156.1" x2="763.3" y2="156.1" stroke="#111" stroke-width="1.6"/>
<text transform="translate(756.6,162.6) scale(0.95,1)" font-size="19.2" text-anchor="end" font-family='"Liberation Serif", "Times New Roman", serif' fill="#111" stroke="#111" stroke-width="0.3">6</text>
<line x1="760.8" y1="136.87" x2="763.3" y2="136.87" stroke="#111" stroke-width="1.3"/>
<line x1="759.1" y1="117.63" x2="763.3" y2="117.63" stroke="#111" stroke-width="1.6"/>
<text transform="translate(756.6,124.13) scale(0.95,1)" font-size="19.2" text-anchor="end" font-family='"Liberation Serif", "Times New Roman", serif' fill="#111" stroke="#111" stroke-width="0.3">8</text>
<line x1="760.8" y1="98.4" x2="763.3" y2="98.4" stroke="#111" stroke-width="1.3"/>
<line x1="759.1" y1="79.17" x2="763.3" y2="79.17" stroke="#111" stroke-width="1.6"/>
<text transform="translate(756.6,85.67) scale(0.95,1)" font-size="19.2" text-anchor="end" font-family='"Liberation Serif", "Times New Roman", serif' fill="#111" stroke="#111" stroke-width="0.3">10</text>
<line x1="760.8" y1="59.93" x2="763.3" y2="59.93" stroke="#111" stroke-width="1.3"/>
<line x1="759.1" y1="40.7" x2="763.3" y2="40.7" stroke="#111" stroke-width="1.6"/>
<text transform="translate(756.6,47.2) scale(0.95,1)" font-size="19.2" text-anchor="end" font-family='"Liberation Serif", "Times New Roman", serif' fill="#111" stroke="#111" stroke-width="0.3">12</text>
<line x1="763.3" y1="271.5" x2="763.3" y2="276" stroke="#111" stroke-width="1.6"/>
<line x1="784.88" y1="271.5" x2="784.88" y2="274.1" stroke="#111" stroke-width="1.2"/>
<line x1="797.5" y1="271.5" x2="797.5" y2="274.1" stroke="#111" stroke-width="1.2"/>
<line x1="806.45" y1="271.5" x2="806.45" y2="274.1" stroke="#111" stroke-width="1.2"/>
<line x1="813.4" y1="271.5" x2="813.4" y2="274.1" stroke="#111" stroke-width="1.2"/>
<line x1="819.07" y1="271.5" x2="819.07" y2="274.1" stroke="#111" stroke-width="1.2"/>
<line x1="823.87" y1="271.5" x2="823.87" y2="274.1" stroke="#111" stroke-width="1.2"/>
<line x1="828.03" y1="271.5" x2="828.03" y2="274.1" stroke="#111" stroke-width="1.2"/>
<line x1="831.7" y1="271.5" x2="831.7" y2="274.1" stroke="#111" stroke-width="1.2"/>
<line x1="834.97" y1="271.5" x2="834.97" y2="276" stroke="#111" stroke-width="1.6"/>
<line x1="856.55" y1="271.5" x2="856.55" y2="274.1" stroke="#111" stroke-width="1.2"/>
<line x1="869.17" y1="271.5" x2="869.17" y2="274.1" stroke="#111" stroke-width="1.2"/>
<line x1="878.13" y1="271.5" x2="878.13" y2="274.1" stroke="#111" stroke-width="1.2"/>
<line x1="885.07" y1="271.5" x2="885.07" y2="274.1" stroke="#111" stroke-width="1.2"/>
<line x1="890.75" y1="271.5" x2="890.75" y2="274.1" stroke="#111" stroke-width="1.2"/>
<line x1="895.55" y1="271.5" x2="895.55" y2="274.1" stroke="#111" stroke-width="1.2"/>
<line x1="899.7" y1="271.5" x2="899.7" y2="274.1" stroke="#111" stroke-width="1.2"/>
<line x1="903.37" y1="271.5" x2="903.37" y2="274.1" stroke="#111" stroke-width="1.2"/>
<line x1="906.65" y1="271.5" x2="906.65" y2="276" stroke="#111" stroke-width="1.6"/>
<line x1="928.23" y1="271.5" x2="928.23" y2="274.1" stroke="#111" stroke-width="1.2"/>
<line x1="940.85" y1="271.5" x2="940.85" y2="274.1" stroke="#111" stroke-width="1.2"/>
<line x1="949.8" y1="271.5" x2="949.8" y2="274.1" stroke="#111" stroke-width="1.2"/>
<line x1="956.75" y1="271.5" x2="956.75" y2="274.1" stroke="#111" stroke-width="1.2"/>
<line x1="962.42" y1="271.5" x2="962.42" y2="274.1" stroke="#111" stroke-width="1.2"/>
<line x1="967.22" y1="271.5" x2="967.22" y2="274.1" stroke="#111" stroke-width="1.2"/>
<line x1="971.38" y1="271.5" x2="971.38" y2="274.1" stroke="#111" stroke-width="1.2"/>
<line x1="975.05" y1="271.5" x2="975.05" y2="274.1" stroke="#111" stroke-width="1.2"/>
<line x1="978.33" y1="271.5" x2="978.33" y2="276" stroke="#111" stroke-width="1.6"/>
<line x1="999.9" y1="271.5" x2="999.9" y2="274.1" stroke="#111" stroke-width="1.2"/>
<line x1="1012.52" y1="271.5" x2="1012.52" y2="274.1" stroke="#111" stroke-width="1.2"/>
<line x1="1021.48" y1="271.5" x2="1021.48" y2="274.1" stroke="#111" stroke-width="1.2"/>
<line x1="1028.42" y1="271.5" x2="1028.42" y2="274.1" stroke="#111" stroke-width="1.2"/>
<line x1="1034.1" y1="271.5" x2="1034.1" y2="274.1" stroke="#111" stroke-width="1.2"/>
<line x1="1038.9" y1="271.5" x2="1038.9" y2="274.1" stroke="#111" stroke-width="1.2"/>
<line x1="1043.05" y1="271.5" x2="1043.05" y2="274.1" stroke="#111" stroke-width="1.2"/>
<line x1="1046.72" y1="271.5" x2="1046.72" y2="274.1" stroke="#111" stroke-width="1.2"/>
<line x1="1050" y1="271.5" x2="1050" y2="276" stroke="#111" stroke-width="1.6"/>
<text transform="translate(764.1,296.3) scale(0.95,1)" font-size="19.5" font-family='"Liberation Serif", "Times New Roman", serif' fill="#111" stroke="#111" stroke-width="0.3" text-anchor="middle">10<tspan font-size="12.5" dy="-8">−1</tspan></text>
<text transform="translate(835.77,296.3) scale(0.95,1)" font-size="19.5" font-family='"Liberation Serif", "Times New Roman", serif' fill="#111" stroke="#111" stroke-width="0.3" text-anchor="middle">10<tspan font-size="12.5" dy="-8">0</tspan></text>
<text transform="translate(907.45,296.3) scale(0.95,1)" font-size="19.5" font-family='"Liberation Serif", "Times New Roman", serif' fill="#111" stroke="#111" stroke-width="0.3" text-anchor="middle">10<tspan font-size="12.5" dy="-8">1</tspan></text>
<text transform="translate(979.12,296.3) scale(0.95,1)" font-size="19.5" font-family='"Liberation Serif", "Times New Roman", serif' fill="#111" stroke="#111" stroke-width="0.3" text-anchor="middle">10<tspan font-size="12.5" dy="-8">2</tspan></text>
<text transform="translate(1050.8,296.3) scale(0.95,1)" font-size="19.5" font-family='"Liberation Serif", "Times New Roman", serif' fill="#111" stroke="#111" stroke-width="0.3" text-anchor="middle">10<tspan font-size="12.5" dy="-8">3</tspan></text>
<text transform="translate(858.7,321)" font-size="24.5" text-anchor="start" font-family='"Liberation Serif", "Times New Roman", serif' fill="#111" textLength="96.2" lengthAdjust="spacingAndGlyphs" stroke="#111" stroke-width="0.3">Size (nm)</text>
<text transform="translate(730,228.4) rotate(-90)" font-size="24.5" text-anchor="start" font-family='"Liberation Serif", "Times New Roman", serif' fill="#111" textLength="145" lengthAdjust="spacingAndGlyphs" stroke="#111" stroke-width="0.3">Intensity (a.u.)</text>
<text transform="translate(802.8,60.1)" font-size="15.8" text-anchor="start" font-family='"Liberation Serif", "Times New Roman", serif' fill="#111" textLength="93.3" lengthAdjust="spacingAndGlyphs" stroke="#111" stroke-width="0.3">MeO-4PACz</text>
<text transform="translate(802.8,81.6)" font-size="15.8" text-anchor="start" font-family='"Liberation Serif", "Times New Roman", serif' fill="#111" textLength="96.6" lengthAdjust="spacingAndGlyphs" stroke="#111" stroke-width="0.3">with PT-COF</text>
<text transform="translate(802.8,103.1)" font-size="15.8" text-anchor="start" font-family='"Liberation Serif", "Times New Roman", serif' fill="#111" textLength="121.8" lengthAdjust="spacingAndGlyphs" stroke="#111" stroke-width="0.3">with Zn-PT-COF</text>
<defs><linearGradient id="bandB" x1="0" x2="1" y1="0" y2="0"><stop offset="0" stop-color="#eef6fb" stop-opacity="0"/><stop offset="0.3" stop-color="#eef6fb" stop-opacity="1"/><stop offset="0.7" stop-color="#eef6fb" stop-opacity="1"/><stop offset="1" stop-color="#eef6fb" stop-opacity="0"/></linearGradient><linearGradient id="bandP" x1="0" x2="1" y1="0" y2="0"><stop offset="0" stop-color="#fcf0f8" stop-opacity="0"/><stop offset="0.3" stop-color="#fcf0f8" stop-opacity="1"/><stop offset="0.7" stop-color="#fcf0f8" stop-opacity="1"/><stop offset="1" stop-color="#fcf0f8" stop-opacity="0"/></linearGradient><linearGradient id="bandB2" x1="0" x2="1" y1="0" y2="0"><stop offset="0" stop-color="#edf1fb" stop-opacity="0"/><stop offset="0.3" stop-color="#edf1fb" stop-opacity="1"/><stop offset="0.7" stop-color="#edf1fb" stop-opacity="1"/><stop offset="1" stop-color="#edf1fb" stop-opacity="0"/></linearGradient></defs>
<rect x="152" y="344" width="32" height="230" fill="url(#bandB)" opacity="0.75"/>
<rect x="237" y="344" width="30" height="230" fill="url(#bandB2)" opacity="0.75"/>
<rect x="283" y="344" width="31" height="230" fill="url(#bandP)" opacity="0.75"/>
<path d="M60.1,382.2 C60.53,382.38 61.81,383.39 62.67,383.3 C63.52,383.2 64.38,382.01 65.23,381.63 C66.09,381.24 67.02,381.28 67.8,381 C68.58,380.72 69.22,379.87 69.93,379.94 C70.64,380.02 71.36,381.38 72.07,381.46 C72.78,381.53 73.49,380.45 74.2,380.4 C74.91,380.35 75.62,381.17 76.33,381.14 C77.04,381.12 77.76,380.07 78.47,380.25 C79.18,380.42 79.82,381.79 80.6,382.2 C81.38,382.61 82.31,382.65 83.17,382.73 C84.02,382.81 84.88,382.96 85.73,382.67 C86.59,382.38 87.52,381.46 88.3,381 C89.08,380.54 89.72,379.84 90.43,379.91 C91.14,379.98 91.86,381.05 92.57,381.43 C93.28,381.81 93.92,381.58 94.7,382.2 C95.48,382.82 96.4,384.48 97.25,385.13 C98.1,385.78 98.95,385.72 99.8,386.1 C100.65,386.48 101.5,386.59 102.35,387.44 C103.2,388.29 103.84,391.01 104.9,391.2 C105.96,391.39 106.78,388.38 108.7,388.6 C110.62,388.82 114.05,390.58 116.4,392.5 C118.75,394.42 120.67,401.6 122.8,400.1 C124.93,398.6 126.85,386.05 129.2,383.5 C131.55,380.95 133.92,383.95 136.9,384.8 C139.88,385.65 144.12,385.83 147.1,388.6 C150.08,391.37 152.67,396.7 154.8,401.4 C156.93,406.1 158.2,412.1 159.9,416.8 C161.6,421.5 163.57,428.4 165,429.6 C166.43,430.8 167.22,426.98 168.5,424 C169.78,421.02 171.13,415.03 172.7,411.7 C174.27,408.37 176.18,404.62 177.9,404 C179.62,403.38 181.3,405.65 183,408 C184.7,410.35 185.97,419.62 188.1,418.1 C190.23,416.58 193.82,403.17 195.8,398.9 C197.78,394.63 198.02,392.5 200,392.5 C201.98,392.5 204.93,396.98 207.7,398.9 C210.47,400.82 213.4,405.07 216.6,404 C219.8,402.93 224.12,392.93 226.9,392.5 C229.68,392.07 230.53,401.7 233.3,401.4 C236.07,401.1 240.73,389.2 243.5,390.7 C246.27,392.2 247.77,409.9 249.9,410.4 C252.03,410.9 253.62,391.78 256.3,393.7 C258.98,395.62 262.58,421.03 266,421.9 C269.42,422.77 273.3,405.08 276.8,398.9 C280.3,392.72 284.23,385.45 287,384.8 C289.77,384.15 291.48,390.1 293.4,395 C295.32,399.9 296.58,414.62 298.5,414.2 C300.42,413.78 302.55,397.4 304.9,392.5 C307.25,387.6 310.47,386.72 312.6,384.8 C314.73,382.88 313.85,381.43 317.7,381 C321.55,380.57 331.15,381.13 335.7,382.2 C340.25,383.27 343.45,386.53 345,387.4" fill="none" stroke="#cfa3d3" stroke-width="1.5" stroke-linejoin="round"/>
<path d="M60.1,437.3 C60.44,437.43 61.44,437.98 62.11,438.06 C62.79,438.13 63.46,437.99 64.13,437.76 C64.8,437.54 65.47,437 66.14,436.72 C66.81,436.44 67.49,436.1 68.16,436.06 C68.83,436.02 69.5,436.25 70.17,436.46 C70.84,436.68 71.51,437.31 72.19,437.35 C72.86,437.39 73.46,436.8 74.2,436.7 C74.94,436.6 75.83,436.87 76.65,436.77 C77.47,436.67 78.28,436.08 79.1,436.1 C79.92,436.13 80.73,436.72 81.55,436.92 C82.37,437.12 83.2,437.1 84,437.3 C84.8,437.5 85.57,438.14 86.35,438.15 C87.13,438.15 87.92,437.46 88.7,437.33 C89.48,437.2 90.27,437.2 91.05,437.39 C91.83,437.59 92.65,438.03 93.4,438.5 C94.15,438.97 94.82,439.88 95.53,440.23 C96.24,440.57 96.96,440.45 97.67,440.58 C98.38,440.71 99.09,440.85 99.8,441 C100.51,441.15 101.22,441.03 101.93,441.47 C102.64,441.9 103.36,443.03 104.07,443.6 C104.78,444.17 105.21,445.1 106.2,444.9 C107.19,444.7 108.3,442.4 110,442.4 C111.7,442.4 114.27,443.2 116.4,444.9 C118.53,446.6 120.87,453.02 122.8,452.6 C124.73,452.18 126.08,444.32 128,442.4 C129.92,440.48 131.53,441.1 134.3,441.1 C137.07,441.1 141.6,441.33 144.6,442.4 C147.6,443.47 150.17,444.95 152.3,447.5 C154.43,450.05 155.7,453.87 157.4,457.7 C159.1,461.53 160.8,466.87 162.5,470.5 C164.2,474.13 165.9,481.2 167.6,479.5 C169.3,477.8 170.98,464.78 172.7,460.3 C174.42,455.82 176.18,453.23 177.9,452.6 C179.62,451.97 181.3,453.93 183,456.5 C184.7,459.07 185.97,468.65 188.1,468 C190.23,467.35 193.82,456.02 195.8,452.6 C197.78,449.18 198.02,447.5 200,447.5 C201.98,447.5 204.93,451.53 207.7,452.6 C210.47,453.67 213.4,455.38 216.6,453.9 C219.8,452.42 224.12,444.13 226.9,443.7 C229.68,443.27 230.32,451.3 233.3,451.3 C236.28,451.3 241.82,442.42 244.8,443.7 C247.78,444.98 249.07,458.37 251.2,459 C253.33,459.63 255.05,446.65 257.6,447.5 C260.15,448.35 263.3,463.68 266.5,464.1 C269.7,464.52 273.17,453.4 276.8,450 C280.43,446.6 285.32,444.03 288.3,443.7 C291.28,443.37 292.78,445.23 294.7,448 C296.62,450.77 298.1,460.6 299.8,460.3 C301.5,460 302.77,449.4 304.9,446.2 C307.03,443 308.75,442.58 312.6,441.1 C316.45,439.62 323.73,438.03 328,437.3 C332.27,436.57 335.37,436.28 338.2,436.7 C341.03,437.12 343.87,439.28 345,439.8" fill="none" stroke="#9395c6" stroke-width="1.5" stroke-linejoin="round"/>
<path d="M60.1,493.6 C60.53,493.51 61.81,493.61 62.67,493.07 C63.52,492.52 64.38,491.09 65.23,490.32 C66.09,489.54 67.02,488.94 67.8,488.4 C68.58,487.86 69.22,487.15 69.93,487.05 C70.64,486.94 71.36,487.86 72.07,487.75 C72.78,487.65 73.49,486.5 74.2,486.4 C74.91,486.3 75.62,487.14 76.33,487.18 C77.04,487.22 77.76,486.45 78.47,486.65 C79.18,486.85 79.89,488.09 80.6,488.4 C81.31,488.71 82.02,488.42 82.73,488.49 C83.44,488.55 84.16,489.01 84.87,488.8 C85.58,488.58 86.29,487.49 87,487.2 C87.71,486.91 88.42,486.96 89.13,487.07 C89.84,487.18 90.56,487.42 91.27,487.86 C91.98,488.3 92.62,489.4 93.4,489.7 C94.18,490 95.1,490.06 95.95,489.64 C96.8,489.23 97.65,487.06 98.5,487.2 C99.35,487.34 100.2,488.97 101.05,490.46 C101.9,491.94 102.75,494.63 103.6,496.1 C104.45,497.57 105.3,498.23 106.15,499.3 C107,500.37 107.62,502.68 108.7,502.5 C109.78,502.32 111.1,498.42 112.6,498.2 C114.1,497.98 115.78,498.13 117.7,501.2 C119.62,504.27 122.38,516.17 124.1,516.6 C125.82,517.03 126.72,507.85 128,503.8 C129.28,499.75 130.32,494 131.8,492.3 C133.28,490.6 134.77,492.53 136.9,493.6 C139.03,494.67 142.03,496.15 144.6,498.7 C147.17,501.25 150.17,505.07 152.3,508.9 C154.43,512.73 155.7,516.15 157.4,521.7 C159.1,527.25 160.8,537.08 162.5,542.2 C164.2,547.32 165.9,553.68 167.6,552.4 C169.3,551.12 170.98,539.83 172.7,534.5 C174.42,529.17 176.18,522.1 177.9,520.4 C179.62,518.7 181.3,521.52 183,524.3 C184.7,527.08 186.62,533.68 188.1,537.1 C189.58,540.52 190.2,547.78 191.9,544.8 C193.6,541.82 196.45,525 198.3,519.2 C200.15,513.4 201.43,510.43 203,510 C204.57,509.57 205.22,515.07 207.7,516.6 C210.18,518.13 214.48,521.85 217.9,519.2 C221.32,516.55 225.42,501.35 228.2,500.7 C230.98,500.05 232.47,513.93 234.6,515.3 C236.73,516.67 239.08,510.82 241,508.9 C242.92,506.98 244.18,500.38 246.1,503.8 C248.02,507.22 250.37,528.12 252.5,529.4 C254.63,530.68 256.47,510 258.9,511.5 C261.33,513 264.12,537.98 267.1,538.4 C270.08,538.82 273.27,521.05 276.8,514 C280.33,506.95 285.32,497.37 288.3,496.1 C291.28,494.83 292.78,500.63 294.7,506.4 C296.62,512.17 297.67,531.13 299.8,530.7 C301.93,530.27 305.37,509.98 307.5,503.8 C309.63,497.62 310.03,496.58 312.6,493.6 C315.17,490.62 319.05,487.4 322.9,485.9 C326.75,484.4 332.02,484.18 335.7,484.6 C339.38,485.02 343.45,487.77 345,488.4" fill="none" stroke="#73aab4" stroke-width="1.5" stroke-linejoin="round"/>
<line x1="168.9" y1="389.9" x2="168.9" y2="558.8" stroke="#222" stroke-width="1.6" stroke-dasharray="5,3.4"/>
<line x1="253" y1="377.1" x2="253" y2="546" stroke="#222" stroke-width="1.6" stroke-dasharray="5,3.4"/>
<line x1="300.3" y1="377.1" x2="300.3" y2="546" stroke="#222" stroke-width="1.6" stroke-dasharray="5,3.4"/>
<text transform="translate(61.2,379.3)" font-size="16.5" text-anchor="start" font-family='"Liberation Serif", "Times New Roman", serif' fill="#c195c5" textLength="122" lengthAdjust="spacingAndGlyphs" stroke="#c195c5" stroke-width="0.3">with Zn-PT-COF</text>
<text transform="translate(61.2,434)" font-size="16.5" text-anchor="start" font-family='"Liberation Serif", "Times New Roman", serif' fill="#848bbd" textLength="95.5" lengthAdjust="spacingAndGlyphs" stroke="#848bbd" stroke-width="0.3">with PT-COF</text>
<text transform="translate(61.2,482.7)" font-size="16.5" text-anchor="start" font-family='"Liberation Serif", "Times New Roman", serif' fill="#67a3ae" textLength="94" lengthAdjust="spacingAndGlyphs" stroke="#67a3ae" stroke-width="0.3">MeO-4PACz</text>
<text transform="translate(122,558.8)" font-size="16.5" text-anchor="start" font-family='"Liberation Serif", "Times New Roman", serif' fill="#111" textLength="31.5" lengthAdjust="spacingAndGlyphs" stroke="#111" stroke-width="0.3">P=O</text>
<text transform="translate(256.8,564)" font-size="16.5" text-anchor="start" font-family='"Liberation Serif", "Times New Roman", serif' fill="#111" textLength="40" lengthAdjust="spacingAndGlyphs" stroke="#111" stroke-width="0.3">P-OH</text>
<rect x="59.3" y="344" width="286.5" height="230" fill="none" stroke="#111" stroke-width="1.9"/>
<line x1="320.75" y1="574" x2="320.75" y2="578.4" stroke="#111" stroke-width="1.6"/>
<text transform="translate(321.25,597)" font-size="18.6" text-anchor="middle" font-family='"Liberation Serif", "Times New Roman", serif' fill="#111" stroke="#111" stroke-width="0.3">900</text>
<line x1="295.82" y1="574" x2="295.82" y2="576.3" stroke="#111" stroke-width="1.3"/>
<line x1="270.9" y1="574" x2="270.9" y2="578.4" stroke="#111" stroke-width="1.6"/>
<text transform="translate(271.4,597)" font-size="18.6" text-anchor="middle" font-family='"Liberation Serif", "Times New Roman", serif' fill="#111" stroke="#111" stroke-width="0.3">1000</text>
<line x1="245.97" y1="574" x2="245.97" y2="576.3" stroke="#111" stroke-width="1.3"/>
<line x1="221.05" y1="574" x2="221.05" y2="578.4" stroke="#111" stroke-width="1.6"/>
<text transform="translate(221.55,597)" font-size="18.6" text-anchor="middle" font-family='"Liberation Serif", "Times New Roman", serif' fill="#111" stroke="#111" stroke-width="0.3">1100</text>
<line x1="196.12" y1="574" x2="196.12" y2="576.3" stroke="#111" stroke-width="1.3"/>
<line x1="171.2" y1="574" x2="171.2" y2="578.4" stroke="#111" stroke-width="1.6"/>
<text transform="translate(171.7,597)" font-size="18.6" text-anchor="middle" font-family='"Liberation Serif", "Times New Roman", serif' fill="#111" stroke="#111" stroke-width="0.3">1200</text>
<line x1="146.28" y1="574" x2="146.28" y2="576.3" stroke="#111" stroke-width="1.3"/>
<line x1="121.35" y1="574" x2="121.35" y2="578.4" stroke="#111" stroke-width="1.6"/>
<text transform="translate(121.85,597)" font-size="18.6" text-anchor="middle" font-family='"Liberation Serif", "Times New Roman", serif' fill="#111" stroke="#111" stroke-width="0.3">1300</text>
<line x1="96.42" y1="574" x2="96.42" y2="576.3" stroke="#111" stroke-width="1.3"/>
<line x1="71.5" y1="574" x2="71.5" y2="578.4" stroke="#111" stroke-width="1.6"/>
<text transform="translate(72,597)" font-size="18.6" text-anchor="middle" font-family='"Liberation Serif", "Times New Roman", serif' fill="#111" stroke="#111" stroke-width="0.3">1400</text>
<text transform="translate(101.8,624.4)" font-size="24.8" font-family='"Liberation Serif", "Times New Roman", serif' fill="#111" stroke="#111" stroke-width="0.3" textLength="201" lengthAdjust="spacingAndGlyphs">Wavenumber (cm<tspan font-size="15" dy="-10">-1</tspan><tspan dy="10">)</tspan></text>
<text transform="translate(47.4,530) rotate(-90)" font-size="24.5" text-anchor="start" font-family='"Liberation Serif", "Times New Roman", serif' fill="#111" textLength="144.6" lengthAdjust="spacingAndGlyphs" stroke="#111" stroke-width="0.3">Intensity (a.u.)</text>
<defs>
<linearGradient id="gO" x1="0" y1="0" x2="0" y2="1"><stop offset="0" stop-color="#f7cdab"/><stop offset="1" stop-color="#fdf1ea" stop-opacity="0.6"/></linearGradient>
<linearGradient id="gG" x1="0" y1="0" x2="0" y2="1"><stop offset="0" stop-color="#bddfb6"/><stop offset="1" stop-color="#f1f8ef" stop-opacity="0.6"/></linearGradient>
<linearGradient id="gP" x1="0" y1="0" x2="0" y2="1"><stop offset="0" stop-color="#eecaf2"/><stop offset="1" stop-color="#f9eefa" stop-opacity="0.6"/></linearGradient>
<linearGradient id="gV" x1="0" y1="0" x2="0" y2="1"><stop offset="0" stop-color="#c9b6ee"/><stop offset="1" stop-color="#efe8fb" stop-opacity="0.8"/></linearGradient>
</defs><line x1="411" y1="417.3" x2="696.7" y2="418.2" stroke="#a9c9d3" stroke-width="1"/>
<line x1="411" y1="491" x2="696.7" y2="491.8" stroke="#b9b9dc" stroke-width="1"/>
<line x1="411" y1="560.8" x2="696.7" y2="562" stroke="#c7bccf" stroke-width="1"/>
<path d="M533,417.6 L533,417.15 L534.44,417 L535.88,416.82 L537.32,416.58 L538.76,416.29 L540.2,415.93 L541.64,415.5 L543.08,415 L544.52,414.42 L545.96,413.75 L547.4,412.99 L548.84,412.16 L550.28,411.26 L551.72,410.3 L553.16,409.29 L554.6,408.26 L556.04,407.23 L557.48,406.23 L558.92,405.28 L560.36,404.41 L561.8,403.66 L563.24,403.04 L564.68,402.58 L566.12,402.3 L567.56,402.2 L569,402.29 L570.44,402.56 L571.88,403.01 L573.32,403.62 L574.76,404.37 L576.2,405.23 L577.64,406.17 L579.08,407.17 L580.52,408.2 L581.96,409.23 L583.4,410.24 L584.84,411.21 L586.28,412.12 L587.72,412.95 L589.16,413.71 L590.6,414.38 L592.04,414.97 L593.48,415.48 L594.92,415.91 L596.36,416.27 L597.8,416.56 L599.24,416.8 L600.68,417 L602.12,417.15 L603.56,417.26 L605,417.35 L605,417.6 Z" fill="url(#gP)" stroke="#c9a6cc" stroke-width="0.8" stroke-opacity="0.7"/>
<path d="M560,417.6 L560,416.97 L561.44,416.77 L562.88,416.51 L564.32,416.19 L565.76,415.8 L567.2,415.32 L568.64,414.76 L570.08,414.09 L571.52,413.31 L572.96,412.42 L574.4,411.42 L575.84,410.3 L577.28,409.09 L578.72,407.78 L580.16,406.39 L581.6,404.96 L583.04,403.51 L584.48,402.07 L585.92,400.67 L587.36,399.35 L588.8,398.16 L590.24,397.12 L591.68,396.27 L593.12,395.64 L594.56,395.25 L596,395.1 L597.44,395.21 L598.88,395.57 L600.32,396.17 L601.76,396.99 L603.2,398.01 L604.64,399.18 L606.08,400.48 L607.52,401.87 L608.96,403.31 L610.4,404.76 L611.84,406.2 L613.28,407.59 L614.72,408.91 L616.16,410.14 L617.6,411.27 L619.04,412.29 L620.48,413.19 L621.92,413.99 L623.36,414.67 L624.8,415.25 L626.24,415.74 L627.68,416.14 L629.12,416.47 L630.56,416.73 L632,416.94 L632,417.6 Z" fill="url(#gG)" stroke="#9fbf9a" stroke-width="0.8" stroke-opacity="0.7"/>
<path d="M592,417.6 L592,415.69 L593.26,415.12 L594.52,414.42 L595.78,413.56 L597.04,412.52 L598.3,411.29 L599.56,409.86 L600.82,408.2 L602.08,406.32 L603.34,404.22 L604.6,401.91 L605.86,399.4 L607.12,396.73 L608.38,393.95 L609.64,391.09 L610.9,388.23 L612.16,385.43 L613.42,382.76 L614.68,380.3 L615.94,378.11 L617.2,376.28 L618.46,374.84 L619.72,373.86 L620.98,373.36 L622.24,373.37 L623.5,373.87 L624.76,374.86 L626.02,376.3 L627.28,378.15 L628.54,380.34 L629.8,382.8 L631.06,385.48 L632.32,388.28 L633.58,391.14 L634.84,393.99 L636.1,396.78 L637.36,399.44 L638.62,401.95 L639.88,404.26 L641.14,406.35 L642.4,408.23 L643.66,409.88 L644.92,411.32 L646.18,412.54 L647.44,413.57 L648.7,414.43 L649.96,415.13 L651.22,415.7 L652.48,416.16 L653.74,416.51 L655,416.79 L655,417.6 Z" fill="url(#gO)" stroke="#d9b597" stroke-width="0.8" stroke-opacity="0.7"/>
<path d="M412,417 C418.33,417 438.67,417 450,417 C461.33,417 471.6,417 480,417 C488.4,417 493.58,417.07 500.37,417 C507.16,416.93 514.63,416.8 520.74,416.59 C526.85,416.39 533.3,416.25 537.04,415.78 C540.77,415.3 540.77,414.83 543.15,413.74 C545.53,412.66 548.24,411.03 551.3,409.26 C554.35,407.5 558.09,404.85 561.48,403.15 C564.88,401.45 568.27,400.43 571.67,399.08 C575.06,397.72 578.46,396.53 581.85,395 C585.25,393.47 588.64,392.45 592.04,389.91 C595.43,387.36 599.17,383.12 602.22,379.72 C605.28,376.33 607.66,372.02 610.37,369.54 C613.09,367.06 616.14,365.43 618.52,364.85 C620.9,364.28 622.93,365.12 624.63,366.07 C626.33,367.03 627.01,367.77 628.71,370.56 C630.4,373.34 632.78,378.36 634.82,382.78 C636.85,387.19 638.89,392.96 640.93,397.04 C642.97,401.11 645,404.34 647.04,407.22 C649.08,410.11 651.11,412.66 653.15,414.35 C655.19,416.05 656.89,416.76 659.26,417.41 C661.64,418.05 661.3,418.05 667.41,418.22 C673.52,418.39 691.18,418.39 695.93,418.43" fill="none" stroke="#5b9db0" stroke-width="1.45" stroke-linejoin="round"/><path d="M412,416.4 C418.33,416.4 438.67,416.4 450,416.4 C461.33,416.4 471.6,416.4 480,416.4 C488.4,416.4 493.58,416.47 500.37,416.4 C507.16,416.33 514.63,416.2 520.74,415.99 C526.85,415.79 534.32,415.31 537.04,415.18" fill="none" stroke="#555" stroke-width="1.3" stroke-dasharray="4,3" opacity="0.8"/>
<path d="M412,491.3 L412,490.4 L415.06,490.28 L418.12,490.15 L421.18,490.01 L424.24,489.86 L427.3,489.7 L430.36,489.54 L433.42,489.37 L436.48,489.2 L439.54,489.02 L442.6,488.85 L445.66,488.67 L448.72,488.5 L451.78,488.34 L454.84,488.18 L457.9,488.04 L460.96,487.91 L464.02,487.79 L467.08,487.69 L470.14,487.61 L473.2,487.55 L476.26,487.52 L479.32,487.5 L482.38,487.51 L485.44,487.53 L488.5,487.58 L491.56,487.66 L494.62,487.75 L497.68,487.85 L500.74,487.98 L503.8,488.12 L506.86,488.27 L509.92,488.43 L512.98,488.6 L516.04,488.77 L519.1,488.94 L522.16,489.12 L525.22,489.29 L528.28,489.47 L531.34,489.63 L534.4,489.79 L537.46,489.95 L540.52,490.09 L543.58,490.23 L546.64,490.35 L549.7,490.47 L552.76,490.57 L555.82,490.67 L558.88,490.76 L561.94,490.83 L565,490.9 L565,491.3 Z" fill="url(#gV)" stroke="#bbb2dc" stroke-width="0.8" stroke-opacity="0.7"/>
<path d="M538,491.3 L538,490.98 L539.34,490.88 L540.68,490.77 L542.02,490.62 L543.36,490.45 L544.7,490.24 L546.04,489.99 L547.38,489.7 L548.72,489.37 L550.06,489 L551.4,488.58 L552.74,488.12 L554.08,487.63 L555.42,487.1 L556.76,486.55 L558.1,485.98 L559.44,485.4 L560.78,484.83 L562.12,484.29 L563.46,483.77 L564.8,483.31 L566.14,482.9 L567.48,482.57 L568.82,482.32 L570.16,482.16 L571.5,482.1 L572.84,482.14 L574.18,482.27 L575.52,482.49 L576.86,482.8 L578.2,483.18 L579.54,483.63 L580.88,484.13 L582.22,484.67 L583.56,485.23 L584.9,485.81 L586.24,486.38 L587.58,486.94 L588.92,487.47 L590.26,487.98 L591.6,488.45 L592.94,488.88 L594.28,489.26 L595.62,489.61 L596.96,489.91 L598.3,490.17 L599.64,490.39 L600.98,490.57 L602.32,490.73 L603.66,490.85 L605,490.95 L605,491.3 Z" fill="url(#gP)" stroke="#c9a6cc" stroke-width="0.8" stroke-opacity="0.7"/>
<path d="M560,491.3 L560,490.04 L561.64,489.68 L563.28,489.24 L564.92,488.71 L566.56,488.06 L568.2,487.31 L569.84,486.42 L571.48,485.41 L573.12,484.26 L574.76,482.97 L576.4,481.54 L578.04,479.99 L579.68,478.34 L581.32,476.59 L582.96,474.79 L584.6,472.96 L586.24,471.14 L587.88,469.37 L589.52,467.69 L591.16,466.15 L592.8,464.79 L594.44,463.65 L596.08,462.76 L597.72,462.15 L599.36,461.84 L601,461.84 L602.64,462.14 L604.28,462.74 L605.92,463.63 L607.56,464.76 L609.2,466.12 L610.84,467.65 L612.48,469.33 L614.12,471.09 L615.76,472.92 L617.4,474.75 L619.04,476.55 L620.68,478.3 L622.32,479.96 L623.96,481.51 L625.6,482.93 L627.24,484.23 L628.88,485.38 L630.52,486.4 L632.16,487.29 L633.8,488.05 L635.44,488.69 L637.08,489.23 L638.72,489.67 L640.36,490.04 L642,490.33 L642,491.3 Z" fill="url(#gG)" stroke="#9fbf9a" stroke-width="0.8" stroke-opacity="0.7"/>
<path d="M600,491.3 L600,487.12 L601.1,485.96 L602.2,484.59 L603.3,482.99 L604.4,481.16 L605.5,479.11 L606.6,476.86 L607.7,474.46 L608.8,471.94 L609.9,469.38 L611,466.85 L612.1,464.43 L613.2,462.21 L614.3,460.27 L615.4,458.69 L616.5,457.54 L617.6,456.87 L618.7,456.71 L619.8,457.06 L620.9,457.91 L622,459.22 L623.1,460.94 L624.2,462.99 L625.3,465.29 L626.4,467.76 L627.5,470.31 L628.6,472.87 L629.7,475.35 L630.8,477.7 L631.9,479.88 L633,481.85 L634.1,483.6 L635.2,485.11 L636.3,486.41 L637.4,487.49 L638.5,488.37 L639.6,489.08 L640.7,489.65 L641.8,490.09 L642.9,490.42 L644,490.68 L645.1,490.86 L646.2,491 L647.3,491.09 L648.4,491.16 L649.5,491.21 L650.6,491.24 L651.7,491.26 L652.8,491.28 L653.9,491.28 L655,491.29 L655,491.3 Z" fill="url(#gO)" stroke="#d9b597" stroke-width="0.8" stroke-opacity="0.7"/>
<path d="M412,487.6 C418.33,487.55 438.67,487.36 450,487.3 C461.33,487.24 471.6,487.24 480,487.22 C488.4,487.21 492.56,487.29 500.37,487.22 C508.18,487.16 520.06,487.33 526.85,486.82 C533.64,486.31 537.04,485.29 541.11,484.17 C545.19,483.05 547.9,481.62 551.3,480.09 C554.69,478.57 558.09,476.7 561.48,475 C564.88,473.3 568.27,471.61 571.67,469.91 C575.06,468.21 578.46,466.85 581.85,464.82 C585.25,462.78 588.64,461.08 592.04,457.69 C595.43,454.29 599.17,448.18 602.22,444.44 C605.28,440.71 608.17,437.25 610.37,435.28 C612.58,433.31 613.77,432.63 615.47,432.63 C617.16,432.63 618.69,432.97 620.56,435.28 C622.43,437.59 624.29,441.56 626.67,446.48 C629.05,451.4 632.1,459.21 634.82,464.82 C637.53,470.42 640.25,476.19 642.97,480.09 C645.68,484 648.4,486.37 651.11,488.24 C653.83,490.11 651.79,490.72 659.26,491.3 C666.73,491.87 689.82,491.64 695.93,491.71" fill="none" stroke="#7679bf" stroke-width="1.45" stroke-linejoin="round"/><path d="M412,487 C418.33,486.95 438.67,486.76 450,486.7 C461.33,486.64 471.6,486.64 480,486.62 C488.4,486.61 492.56,486.69 500.37,486.62 C508.18,486.56 520.06,486.73 526.85,486.22 C533.64,485.71 537.04,484.69 541.11,483.57 C545.19,482.45 547.9,481.02 551.3,479.49 C554.69,477.97 558.09,476.1 561.48,474.4 C564.88,472.7 569.97,470.16 571.67,469.31" fill="none" stroke="#555" stroke-width="1.3" stroke-dasharray="4,3" opacity="0.45"/>
<path d="M412,561 L412,560.92 L415.16,560.9 L418.32,560.86 L421.48,560.82 L424.64,560.76 L427.8,560.69 L430.96,560.6 L434.12,560.5 L437.28,560.37 L440.44,560.22 L443.6,560.04 L446.76,559.84 L449.92,559.61 L453.08,559.35 L456.24,559.07 L459.4,558.76 L462.56,558.43 L465.72,558.08 L468.88,557.73 L472.04,557.37 L475.2,557.02 L478.36,556.68 L481.52,556.37 L484.68,556.08 L487.84,555.84 L491,555.65 L494.16,555.51 L497.32,555.42 L500.48,555.4 L503.64,555.44 L506.8,555.54 L509.96,555.7 L513.12,555.91 L516.28,556.17 L519.44,556.46 L522.6,556.78 L525.76,557.13 L528.92,557.48 L532.08,557.84 L535.24,558.19 L538.4,558.53 L541.56,558.85 L544.72,559.16 L547.88,559.43 L551.04,559.68 L554.2,559.91 L557.36,560.1 L560.52,560.27 L563.68,560.41 L566.84,560.53 L570,560.63 L570,561 Z" fill="url(#gV)" stroke="#bbb2dc" stroke-width="0.8" stroke-opacity="0.7"/>
<path d="M530,561 L530,560.86 L531.5,560.81 L533,560.74 L534.5,560.65 L536,560.53 L537.5,560.39 L539,560.21 L540.5,559.99 L542,559.73 L543.5,559.41 L545,559.05 L546.5,558.63 L548,558.15 L549.5,557.63 L551,557.05 L552.5,556.43 L554,555.78 L555.5,555.11 L557,554.44 L558.5,553.78 L560,553.15 L561.5,552.57 L563,552.06 L564.5,551.64 L566,551.31 L567.5,551.1 L569,551 L570.5,551.03 L572,551.18 L573.5,551.45 L575,551.82 L576.5,552.29 L578,552.84 L579.5,553.44 L581,554.09 L582.5,554.76 L584,555.43 L585.5,556.09 L587,556.73 L588.5,557.32 L590,557.88 L591.5,558.38 L593,558.83 L594.5,559.22 L596,559.56 L597.5,559.85 L599,560.1 L600.5,560.3 L602,560.46 L603.5,560.59 L605,560.69 L605,561 Z" fill="url(#gP)" stroke="#c9a6cc" stroke-width="0.8" stroke-opacity="0.7"/>
<path d="M565,561 L565,559.53 L566.54,559.12 L568.08,558.62 L569.62,558.03 L571.16,557.33 L572.7,556.51 L574.24,555.56 L575.78,554.49 L577.32,553.28 L578.86,551.95 L580.4,550.49 L581.94,548.93 L583.48,547.28 L585.02,545.58 L586.56,543.84 L588.1,542.1 L589.64,540.41 L591.18,538.8 L592.72,537.32 L594.26,536 L595.8,534.88 L597.34,534.01 L598.88,533.39 L600.42,533.06 L601.96,533.02 L603.5,533.27 L605.04,533.81 L606.58,534.62 L608.12,535.67 L609.66,536.94 L611.2,538.38 L612.74,539.96 L614.28,541.63 L615.82,543.36 L617.36,545.1 L618.9,546.82 L620.44,548.49 L621.98,550.08 L623.52,551.56 L625.06,552.93 L626.6,554.17 L628.14,555.28 L629.68,556.27 L631.22,557.12 L632.76,557.85 L634.3,558.47 L635.84,558.99 L637.38,559.42 L638.92,559.77 L640.46,560.06 L642,560.28 L642,561 Z" fill="url(#gG)" stroke="#9fbf9a" stroke-width="0.8" stroke-opacity="0.7"/>
<path d="M598,561 L598,558.99 L599.04,558.37 L600.08,557.61 L601.12,556.68 L602.16,555.57 L603.2,554.27 L604.24,552.77 L605.28,551.07 L606.32,549.17 L607.36,547.1 L608.4,544.89 L609.44,542.57 L610.48,540.19 L611.52,537.83 L612.56,535.53 L613.6,533.38 L614.64,531.44 L615.68,529.78 L616.72,528.47 L617.76,527.56 L618.8,527.08 L619.84,527.04 L620.88,527.46 L621.92,528.31 L622.96,529.56 L624,531.16 L625.04,533.06 L626.08,535.19 L627.12,537.47 L628.16,539.83 L629.2,542.21 L630.24,544.54 L631.28,546.77 L632.32,548.87 L633.36,550.79 L634.4,552.52 L635.44,554.05 L636.48,555.38 L637.52,556.52 L638.56,557.47 L639.6,558.26 L640.64,558.9 L641.68,559.41 L642.72,559.82 L643.76,560.13 L644.8,560.37 L645.84,560.55 L646.88,560.68 L647.92,560.78 L648.96,560.85 L650,560.89 L650,561 Z" fill="url(#gO)" stroke="#d9b597" stroke-width="0.8" stroke-opacity="0.7"/>
<path d="M412,560 C419.26,559.77 443.67,559.21 455.56,558.61 C467.44,558.01 474.07,556.9 483.33,556.39 C492.59,555.88 503.24,555.88 511.11,555.56 C518.98,555.23 525,554.91 530.56,554.44 C536.11,553.98 540.28,553.38 544.44,552.78 C548.61,552.18 551.85,551.62 555.56,550.83 C559.26,550.05 562.96,549.44 566.67,548.06 C570.37,546.67 574.07,544.81 577.78,542.5 C581.48,540.19 585.19,537.64 588.89,534.17 C592.59,530.69 596.3,525.83 600,521.67 C603.7,517.5 608.43,511.85 611.11,509.17 C613.8,506.48 614.26,505.32 616.11,505.56 C617.96,505.79 619.81,506.94 622.22,510.56 C624.63,514.17 627.78,521.2 630.56,527.22 C633.33,533.24 636.11,541.57 638.89,546.67 C641.67,551.76 643.98,555.37 647.22,557.78 C650.46,560.19 650.23,560.51 658.33,561.11 C666.44,561.71 689.58,561.34 695.83,561.39" fill="none" stroke="#9a74bb" stroke-width="1.45" stroke-linejoin="round"/><path d="M412,559.4 C419.26,559.17 443.67,558.61 455.56,558.01 C467.44,557.41 474.07,556.3 483.33,555.79 C492.59,555.28 503.24,555.28 511.11,554.96 C518.98,554.63 525,554.31 530.56,553.84 C536.11,553.38 540.28,552.78 544.44,552.18 C548.61,551.58 551.85,551.02 555.56,550.23 C559.26,549.45 562.96,548.84 566.67,547.46 C570.37,546.07 574.07,544.21 577.78,541.9 C581.48,539.59 585.19,537.04 588.89,533.57 C592.59,530.09 598.15,523.15 600,521.07" fill="none" stroke="#555" stroke-width="1.3" stroke-dasharray="4,3" opacity="0.8"/>
<text transform="translate(415,363.3)" font-size="17.2" text-anchor="start" font-family='"Liberation Serif", "Times New Roman", serif' fill="#111" textLength="96" lengthAdjust="spacingAndGlyphs" stroke="#111" stroke-width="0.3">MeO-4PACz</text>
<text transform="translate(692,363.4)" font-size="17.2" text-anchor="end" font-family='"Liberation Serif", "Times New Roman", serif' fill="#111" textLength="32.6" lengthAdjust="spacingAndGlyphs" stroke="#111" stroke-width="0.3">C 1s</text>
<text transform="translate(414.7,442.9)" font-size="17.2" text-anchor="start" font-family='"Liberation Serif", "Times New Roman", serif' fill="#111" textLength="99.3" lengthAdjust="spacingAndGlyphs" stroke="#111" stroke-width="0.3">with PT-COF</text>
<text transform="translate(414.7,514.4)" font-size="17.2" text-anchor="start" font-family='"Liberation Serif", "Times New Roman", serif' fill="#111" textLength="125.8" lengthAdjust="spacingAndGlyphs" stroke="#111" stroke-width="0.3">with Zn-PT-COF</text>
<text transform="translate(516.7,385)" font-size="16.5" text-anchor="middle" font-family='"Liberation Serif", "Times New Roman", serif' fill="#d7a9dc" textLength="27" lengthAdjust="spacingAndGlyphs" stroke="#d7a9dc" stroke-width="0.3">C-P</text>
<text transform="translate(516,407.3)" font-size="16.5" text-anchor="middle" font-family='"Liberation Serif", "Times New Roman", serif' fill="#d7a9dc" textLength="58" lengthAdjust="spacingAndGlyphs" stroke="#d7a9dc" stroke-width="0.3">(C-O-C)</text>
<text transform="translate(576,382.3)" font-size="16.5" text-anchor="middle" font-family='"Liberation Serif", "Times New Roman", serif' fill="#8fc08a" textLength="30" lengthAdjust="spacingAndGlyphs" stroke="#8fc08a" stroke-width="0.3">C-N</text>
<text transform="translate(659.3,391.7)" font-size="16.5" text-anchor="middle" font-family='"Liberation Serif", "Times New Roman", serif' fill="#efc79c" textLength="30" lengthAdjust="spacingAndGlyphs" stroke="#efc79c" stroke-width="0.3">C-C</text>
<text transform="translate(499.6,548)" font-size="16.5" text-anchor="middle" font-family='"Liberation Serif", "Times New Roman", serif' fill="#b59ad9" textLength="53.6" lengthAdjust="spacingAndGlyphs" stroke="#b59ad9" stroke-width="0.3">O-C=O</text>
<rect x="411" y="343.3" width="285.7" height="230" fill="none" stroke="#111" stroke-width="1.9"/>
<line x1="411" y1="573.3" x2="411" y2="577.7" stroke="#111" stroke-width="1.6"/>
<text transform="translate(411,597)" font-size="18.6" text-anchor="middle" font-family='"Liberation Serif", "Times New Roman", serif' fill="#111" stroke="#111" stroke-width="0.3">292</text>
<line x1="439.57" y1="573.3" x2="439.57" y2="575.6" stroke="#111" stroke-width="1.3"/>
<line x1="468.14" y1="573.3" x2="468.14" y2="577.7" stroke="#111" stroke-width="1.6"/>
<text transform="translate(468.14,597)" font-size="18.6" text-anchor="middle" font-family='"Liberation Serif", "Times New Roman", serif' fill="#111" stroke="#111" stroke-width="0.3">290</text>
<line x1="496.71" y1="573.3" x2="496.71" y2="575.6" stroke="#111" stroke-width="1.3"/>
<line x1="525.28" y1="573.3" x2="525.28" y2="577.7" stroke="#111" stroke-width="1.6"/>
<text transform="translate(525.28,597)" font-size="18.6" text-anchor="middle" font-family='"Liberation Serif", "Times New Roman", serif' fill="#111" stroke="#111" stroke-width="0.3">288</text>
<line x1="553.85" y1="573.3" x2="553.85" y2="575.6" stroke="#111" stroke-width="1.3"/>
<line x1="582.42" y1="573.3" x2="582.42" y2="577.7" stroke="#111" stroke-width="1.6"/>
<text transform="translate(582.42,597)" font-size="18.6" text-anchor="middle" font-family='"Liberation Serif", "Times New Roman", serif' fill="#111" stroke="#111" stroke-width="0.3">286</text>
<line x1="610.99" y1="573.3" x2="610.99" y2="575.6" stroke="#111" stroke-width="1.3"/>
<line x1="639.56" y1="573.3" x2="639.56" y2="577.7" stroke="#111" stroke-width="1.6"/>
<text transform="translate(639.56,597)" font-size="18.6" text-anchor="middle" font-family='"Liberation Serif", "Times New Roman", serif' fill="#111" stroke="#111" stroke-width="0.3">284</text>
<line x1="668.13" y1="573.3" x2="668.13" y2="575.6" stroke="#111" stroke-width="1.3"/>
<line x1="696.7" y1="573.3" x2="696.7" y2="577.7" stroke="#111" stroke-width="1.6"/>
<text transform="translate(696.7,597)" font-size="18.6" text-anchor="middle" font-family='"Liberation Serif", "Times New Roman", serif' fill="#111" stroke="#111" stroke-width="0.3">282</text>
<text transform="translate(450.5,623.4)" font-size="24.5" text-anchor="start" font-family='"Liberation Serif", "Times New Roman", serif' fill="#111" textLength="206" lengthAdjust="spacingAndGlyphs" stroke="#111" stroke-width="0.3">Binding energy (eV)</text>
<text transform="translate(398,529.6) rotate(-90)" font-size="24.5" text-anchor="start" font-family='"Liberation Serif", "Times New Roman", serif' fill="#111" textLength="144.2" lengthAdjust="spacingAndGlyphs" stroke="#111" stroke-width="0.3">Intensity (a.u.)</text><line x1="762.4" y1="407.8" x2="1049.3" y2="407.8" stroke="#a9c9d3" stroke-width="1"/>
<line x1="762.4" y1="486" x2="1049.3" y2="486" stroke="#b9b9dc" stroke-width="1"/>
<line x1="762.4" y1="562.8" x2="1049.3" y2="562.8" stroke="#c7bccf" stroke-width="1"/>
<path d="M763.4,407.22 C763.91,407.17 765.43,406.83 766.45,406.91 C767.46,406.98 768.48,407.7 769.49,407.67 C770.51,407.64 771.53,406.75 772.54,406.71 C773.56,406.67 774.57,407.35 775.59,407.42 C776.6,407.49 777.62,407.25 778.64,407.11 C779.65,406.97 780.67,406.56 781.68,406.58 C782.7,406.61 783.71,407.29 784.73,407.27 C785.75,407.25 786.76,406.52 787.78,406.48 C788.8,406.45 789.84,407.07 790.86,407.05 C791.89,407.04 792.92,406.52 793.95,406.41 C794.98,406.3 796.01,406.31 797.04,406.38 C798.07,406.46 799.09,406.68 800.12,406.85 C801.15,407.03 802.18,407.54 803.21,407.44 C804.24,407.34 805.27,406.43 806.3,406.25 C807.33,406.07 808.35,406.23 809.38,406.35 C810.41,406.46 811.44,406.76 812.47,406.93 C813.5,407.1 814.53,407.41 815.56,407.38 C816.58,407.35 817.61,406.92 818.64,406.76 C819.67,406.6 820.7,406.34 821.73,406.44 C822.76,406.54 823.79,407.44 824.81,407.34 C825.84,407.23 826.87,405.86 827.9,405.82 C828.93,405.78 829.96,407.03 830.99,407.09 C832.02,407.14 833.05,406.35 834.07,406.14 C835.1,405.94 836.13,405.94 837.16,405.88 C838.19,405.83 839.22,405.77 840.25,405.81 C841.28,405.84 842.3,405.91 843.33,406.08 C844.36,406.25 845.39,406.89 846.42,406.83 C847.45,406.78 848.48,405.84 849.51,405.75 C850.53,405.67 851.56,406.23 852.59,406.33 C853.62,406.44 854.65,406.44 855.68,406.36 C856.71,406.29 857.74,405.92 858.77,405.88 C859.79,405.83 860.82,406.2 861.85,406.09 C862.88,405.99 863.91,405.41 864.94,405.26 C865.97,405.11 867,405.17 868.02,405.19 C869.05,405.21 870.04,405.27 871.11,405.36 C872.18,405.45 873.33,405.8 874.44,405.73 C875.56,405.66 876.67,405.17 877.78,404.94 C878.89,404.71 880,404.46 881.11,404.37 C882.22,404.28 883.33,404.49 884.44,404.41 C885.56,404.33 886.6,404.36 887.78,403.89 C888.95,403.42 890.25,402.35 891.48,401.57 C892.72,400.8 893.95,400.03 895.19,399.26 C896.42,398.49 897.65,397.95 898.89,396.94 C900.12,395.94 901.36,394.48 902.59,393.24 C903.83,392.01 905.06,390.77 906.3,389.54 C907.53,388.3 908.77,387.3 910,385.83 C911.23,384.37 912.47,382.44 913.7,380.74 C914.94,379.04 916.17,377.35 917.41,375.65 C918.64,373.95 919.88,372.1 921.11,370.56 C922.35,369.01 923.58,367.78 924.81,366.39 C926.05,365 927.28,363.62 928.52,362.22 C929.75,360.82 931.03,358.96 932.22,357.98 C933.42,357 934.54,356.72 935.69,356.35 C936.85,355.97 938.01,355.64 939.17,355.75 C940.32,355.86 941.48,356.6 942.64,356.99 C943.8,357.37 944.84,356.84 946.11,358.06 C947.38,359.28 948.89,362.22 950.28,364.31 C951.67,366.39 953.13,368.36 954.44,370.56 C955.76,372.75 956.91,375.19 958.15,377.5 C959.38,379.81 960.62,382.13 961.85,384.44 C963.09,386.76 964.24,389.14 965.56,391.39 C966.87,393.63 968.33,395.81 969.72,397.92 C971.11,400.02 972.5,402.74 973.89,404.03 C975.28,405.33 976.67,405.23 978.06,405.67 C979.44,406.12 981.01,406.44 982.22,406.71 C983.43,406.98 984.28,407.23 985.31,407.3 C986.34,407.36 987.37,407.24 988.4,407.1 C989.42,406.95 990.45,406.34 991.48,406.42 C992.51,406.5 993.54,407.59 994.57,407.56 C995.6,407.52 996.63,406.35 997.65,406.21 C998.68,406.07 999.71,406.54 1000.74,406.72 C1001.77,406.9 1002.8,407.35 1003.83,407.29 C1004.86,407.23 1005.88,406.42 1006.91,406.36 C1007.94,406.3 1008.96,406.94 1010,406.93 C1011.04,406.91 1012.08,406.19 1013.12,406.25 C1014.17,406.32 1015.21,407.1 1016.25,407.31 C1017.29,407.52 1018.33,407.52 1019.38,407.51 C1020.42,407.5 1021.46,407.2 1022.5,407.25 C1023.54,407.29 1024.58,407.83 1025.62,407.78 C1026.67,407.72 1027.71,406.96 1028.75,406.92 C1029.79,406.89 1030.83,407.49 1031.88,407.58 C1032.92,407.67 1033.96,407.48 1035,407.47 C1036.04,407.45 1037.08,407.51 1038.12,407.49 C1039.17,407.47 1040.21,407.25 1041.25,407.34 C1042.29,407.42 1043.33,407.97 1044.38,408 C1045.42,408.02 1046.98,407.58 1047.5,407.5" fill="none" stroke="#6aaab9" stroke-width="1.5" stroke-linejoin="round"/>
<path d="M830,485.8 L830,483.6 L832.5,482.99 L835,482.24 L837.5,481.35 L840,480.3 L842.5,479.06 L845,477.64 L847.5,476.03 L850,474.23 L852.5,472.24 L855,470.08 L857.5,467.77 L860,465.35 L862.5,462.85 L865,460.33 L867.5,457.83 L870,455.42 L872.5,453.16 L875,451.1 L877.5,449.32 L880,447.86 L882.5,446.76 L885,446.07 L887.5,445.8 L890,445.97 L892.5,446.56 L895,447.56 L897.5,448.94 L900,450.65 L902.5,452.64 L905,454.86 L907.5,457.24 L910,459.72 L912.5,462.25 L915,464.76 L917.5,467.2 L920,469.54 L922.5,471.74 L925,473.77 L927.5,475.62 L930,477.27 L932.5,478.74 L935,480.02 L937.5,481.11 L940,482.04 L942.5,482.82 L945,483.46 L947.5,483.99 L950,484.41 L952.5,484.74 L955,485.01 L955,485.8 Z" fill="url(#gG)" stroke="#9fbf9a" stroke-width="0.8" stroke-opacity="0.7"/>
<path d="M885,485.8 L885,484.25 L886.86,483.74 L888.72,483.11 L890.58,482.31 L892.44,481.33 L894.3,480.15 L896.16,478.72 L898.02,477.04 L899.88,475.08 L901.74,472.83 L903.6,470.28 L905.46,467.44 L907.32,464.32 L909.18,460.96 L911.04,457.4 L912.9,453.68 L914.76,449.89 L916.62,446.1 L918.48,442.41 L920.34,438.91 L922.2,435.69 L924.06,432.85 L925.92,430.48 L927.78,428.65 L929.64,427.43 L931.5,426.85 L933.36,426.93 L935.22,427.67 L937.08,429.05 L938.94,431.02 L940.8,433.51 L942.66,436.45 L944.52,439.75 L946.38,443.31 L948.24,447.04 L950.1,450.83 L951.96,454.61 L953.82,458.29 L955.68,461.81 L957.54,465.12 L959.4,468.17 L961.26,470.94 L963.12,473.41 L964.98,475.59 L966.84,477.48 L968.7,479.1 L970.56,480.46 L972.42,481.59 L974.28,482.52 L976.14,483.28 L978,483.88 L978,485.8 Z" fill="url(#gO)" stroke="#d9b597" stroke-width="0.8" stroke-opacity="0.7"/>
<path d="M763.4,485.83 C769.78,485.6 790.66,485.37 801.67,484.44 C812.67,483.52 822.5,482.13 829.44,480.28 C836.39,478.43 838.7,476.34 843.33,473.33 C847.96,470.32 852.59,466.16 857.22,462.22 C861.85,458.29 866.48,453.19 871.11,449.72 C875.74,446.25 880.37,443.7 885,441.39 C889.63,439.07 894.26,437.92 898.89,435.83 C903.52,433.75 908.61,431.67 912.78,428.89 C916.94,426.11 921.11,421.11 923.89,419.17 C926.67,417.22 927.59,417.22 929.44,417.22 C931.3,417.22 932.69,417.22 935,419.17 C937.31,421.11 940.09,423.56 943.33,428.89 C946.57,434.21 950.74,444.17 954.44,451.11 C958.15,458.06 961.85,465.23 965.56,470.56 C969.26,475.88 972.5,480.6 976.67,483.06 C980.83,485.51 978.75,484.81 990.56,485.28 C1002.36,485.74 1038.01,485.74 1047.5,485.83" fill="none" stroke="#7679bf" stroke-width="1.45" stroke-linejoin="round"/><path d="M763.4,485.23 C769.78,485 790.66,484.77 801.67,483.84 C812.67,482.92 822.5,481.53 829.44,479.68 C836.39,477.83 838.7,475.74 843.33,472.73 C847.96,469.72 852.59,465.56 857.22,461.62 C861.85,457.69 868.8,451.21 871.11,449.12" fill="none" stroke="#555" stroke-width="1.3" stroke-dasharray="4,3" opacity="0.8"/>
<path d="M835,562.8 L835,560.14 L837.6,559.4 L840.2,558.5 L842.8,557.43 L845.4,556.18 L848,554.73 L850.6,553.08 L853.2,551.22 L855.8,549.17 L858.4,546.94 L861,544.57 L863.6,542.09 L866.2,539.54 L868.8,536.98 L871.4,534.48 L874,532.1 L876.6,529.9 L879.2,527.96 L881.8,526.34 L884.4,525.08 L887,524.24 L889.6,523.83 L892.2,523.89 L894.8,524.39 L897.4,525.33 L900,526.68 L902.6,528.38 L905.2,530.39 L907.8,532.63 L910.4,535.05 L913,537.57 L915.6,540.13 L918.2,542.67 L920.8,545.13 L923.4,547.47 L926,549.66 L928.6,551.67 L931.2,553.48 L933.8,555.08 L936.4,556.49 L939,557.7 L941.6,558.72 L944.2,559.58 L946.8,560.29 L949.4,560.86 L952,561.32 L954.6,561.69 L957.2,561.97 L959.8,562.19 L962.4,562.36 L965,562.48 L965,562.8 Z" fill="url(#gG)" stroke="#9fbf9a" stroke-width="0.8" stroke-opacity="0.7"/>
<path d="M893,562.8 L893,560.88 L894.58,560.35 L896.16,559.69 L897.74,558.91 L899.32,557.96 L900.9,556.85 L902.48,555.56 L904.06,554.07 L905.64,552.37 L907.22,550.47 L908.8,548.36 L910.38,546.05 L911.96,543.57 L913.54,540.93 L915.12,538.16 L916.7,535.32 L918.28,532.45 L919.86,529.6 L921.44,526.84 L923.02,524.23 L924.6,521.82 L926.18,519.69 L927.76,517.89 L929.34,516.47 L930.92,515.47 L932.5,514.91 L934.08,514.82 L935.66,515.2 L937.24,516.03 L938.82,517.29 L940.4,518.95 L941.98,520.95 L943.56,523.25 L945.14,525.79 L946.72,528.5 L948.3,531.33 L949.88,534.2 L951.46,537.06 L953.04,539.86 L954.62,542.55 L956.2,545.1 L957.78,547.48 L959.36,549.67 L960.94,551.65 L962.52,553.43 L964.1,555 L965.68,556.37 L967.26,557.55 L968.84,558.56 L970.42,559.4 L972,560.11 L972,562.8 Z" fill="url(#gO)" stroke="#d9b597" stroke-width="0.8" stroke-opacity="0.7"/>
<path d="M763.4,563.33 C769.78,563.15 790.66,562.92 801.67,562.22 C812.67,561.53 822.5,560.6 829.44,559.17 C836.39,557.73 838.7,555.93 843.33,553.61 C847.96,551.3 852.59,548.52 857.22,545.28 C861.85,542.04 866.48,537.64 871.11,534.17 C875.74,530.69 880.37,526.99 885,524.44 C889.63,521.9 894.72,520.51 898.89,518.89 C903.06,517.27 906.3,517.04 910,514.72 C913.7,512.41 918.1,507.31 921.11,505 C924.12,502.69 925.74,501.06 928.06,500.83 C930.37,500.6 932.45,501.53 935,503.61 C937.55,505.69 940.09,508.47 943.33,513.33 C946.57,518.19 950.74,526.53 954.44,532.78 C958.15,539.03 961.85,546.2 965.56,550.83 C969.26,555.46 972.96,558.66 976.67,560.56 C980.37,562.45 975.97,561.85 987.78,562.22 C999.58,562.59 1037.55,562.69 1047.5,562.78" fill="none" stroke="#a27cc0" stroke-width="1.45" stroke-linejoin="round"/><path d="M763.4,562.73 C769.78,562.55 790.66,562.32 801.67,561.62 C812.67,560.93 822.5,560 829.44,558.57 C836.39,557.13 838.7,555.33 843.33,553.01 C847.96,550.7 852.59,547.92 857.22,544.68 C861.85,541.44 868.8,535.42 871.11,533.57" fill="none" stroke="#555" stroke-width="1.3" stroke-dasharray="4,3" opacity="0.8"/>
<text transform="translate(767,365)" font-size="17.2" text-anchor="start" font-family='"Liberation Serif", "Times New Roman", serif' fill="#111" textLength="98" lengthAdjust="spacingAndGlyphs" stroke="#111" stroke-width="0.3">MeO-4PACz</text>
<text transform="translate(1043.9,365)" font-size="17.2" text-anchor="end" font-family='"Liberation Serif", "Times New Roman", serif' fill="#111" textLength="34.5" lengthAdjust="spacingAndGlyphs" stroke="#111" stroke-width="0.3">N 1s</text>
<text transform="translate(767,431.9)" font-size="17.2" text-anchor="start" font-family='"Liberation Serif", "Times New Roman", serif' fill="#111" textLength="100" lengthAdjust="spacingAndGlyphs" stroke="#111" stroke-width="0.3">with PT-COF</text>
<text transform="translate(767,512.5)" font-size="17.2" text-anchor="start" font-family='"Liberation Serif", "Times New Roman", serif' fill="#111" textLength="126.3" lengthAdjust="spacingAndGlyphs" stroke="#111" stroke-width="0.3">with Zn-PT-COF</text>
<text transform="translate(804.4,462.2)" font-size="16.5" text-anchor="start" font-family='"Liberation Serif", "Times New Roman", serif' fill="#9dcb95" textLength="54.2" lengthAdjust="spacingAndGlyphs" stroke="#9dcb95" stroke-width="0.3">N-N=C</text>
<text transform="translate(950.3,434.4)" font-size="16.5" text-anchor="start" font-family='"Liberation Serif", "Times New Roman", serif' fill="#efc29c" textLength="30.5" lengthAdjust="spacingAndGlyphs" stroke="#efc29c" stroke-width="0.3">C-N</text>
<rect x="762.4" y="342.7" width="286.9" height="231.6" fill="none" stroke="#111" stroke-width="1.9"/>
<line x1="1012.7" y1="574.3" x2="1012.7" y2="578.7" stroke="#111" stroke-width="1.6"/>
<text transform="translate(1012.7,597)" font-size="18.6" text-anchor="middle" font-family='"Liberation Serif", "Times New Roman", serif' fill="#111" stroke="#111" stroke-width="0.3">398</text>
<line x1="976.9" y1="574.3" x2="976.9" y2="576.6" stroke="#111" stroke-width="1.3"/>
<line x1="941.1" y1="574.3" x2="941.1" y2="578.7" stroke="#111" stroke-width="1.6"/>
<text transform="translate(941.1,597)" font-size="18.6" text-anchor="middle" font-family='"Liberation Serif", "Times New Roman", serif' fill="#111" stroke="#111" stroke-width="0.3">400</text>
<line x1="905.3" y1="574.3" x2="905.3" y2="576.6" stroke="#111" stroke-width="1.3"/>
<line x1="869.5" y1="574.3" x2="869.5" y2="578.7" stroke="#111" stroke-width="1.6"/>
<text transform="translate(869.5,597)" font-size="18.6" text-anchor="middle" font-family='"Liberation Serif", "Times New Roman", serif' fill="#111" stroke="#111" stroke-width="0.3">402</text>
<line x1="833.7" y1="574.3" x2="833.7" y2="576.6" stroke="#111" stroke-width="1.3"/>
<line x1="797.9" y1="574.3" x2="797.9" y2="578.7" stroke="#111" stroke-width="1.6"/>
<text transform="translate(797.9,597)" font-size="18.6" text-anchor="middle" font-family='"Liberation Serif", "Times New Roman", serif' fill="#111" stroke="#111" stroke-width="0.3">404</text>
<text transform="translate(802.5,623.4)" font-size="24.5" text-anchor="start" font-family='"Liberation Serif", "Times New Roman", serif' fill="#111" textLength="206" lengthAdjust="spacingAndGlyphs" stroke="#111" stroke-width="0.3">Binding energy (eV)</text>
<text transform="translate(749.8,529.6) rotate(-90)" font-size="24.5" text-anchor="start" font-family='"Liberation Serif", "Times New Roman", serif' fill="#111" textLength="144.2" lengthAdjust="spacingAndGlyphs" stroke="#111" stroke-width="0.3">Intensity (a.u.)</text>
<rect x="81.2" y="865.26" width="14" height="16.74" fill="#dfdfdf"/>
<rect x="99.9" y="796.98" width="14" height="85.02" fill="#dfdfdf"/>
<rect x="118.6" y="744.56" width="14" height="137.44" fill="#dfdfdf"/>
<rect x="137.3" y="717.25" width="14" height="164.75" fill="#dfdfdf"/>
<rect x="156" y="725.18" width="14" height="156.82" fill="#dfdfdf"/>
<rect x="174.7" y="760.42" width="14" height="121.58" fill="#dfdfdf"/>
<rect x="193.4" y="773.64" width="14" height="108.36" fill="#dfdfdf"/>
<rect x="212.1" y="798.3" width="14" height="83.7" fill="#dfdfdf"/>
<rect x="230.8" y="876.71" width="14" height="5.29" fill="#dfdfdf"/>
<rect x="173.1" y="852.05" width="12.5" height="29.95" fill="#a3cfea" fill-opacity="0.8"/>
<rect x="189.8" y="789.5" width="12.5" height="92.51" fill="#a3cfea" fill-opacity="0.8"/>
<rect x="206.5" y="749.85" width="12.5" height="132.15" fill="#a3cfea" fill-opacity="0.8"/>
<rect x="223.2" y="733.99" width="12.5" height="148.01" fill="#a3cfea" fill-opacity="0.8"/>
<rect x="239.9" y="742.8" width="12.5" height="139.2" fill="#a3cfea" fill-opacity="0.8"/>
<rect x="256.6" y="763.07" width="12.5" height="118.94" fill="#a3cfea" fill-opacity="0.8"/>
<rect x="273.3" y="789.5" width="12.5" height="92.51" fill="#a3cfea" fill-opacity="0.8"/>
<rect x="290" y="782.45" width="12.5" height="99.55" fill="#a3cfea" fill-opacity="0.8"/>
<rect x="306.7" y="861.74" width="12.5" height="20.26" fill="#a3cfea" fill-opacity="0.8"/>
<path d="M71.6,882 C72.09,880.95 73.55,877.83 74.52,875.7 C75.5,873.57 76.47,871.4 77.44,869.2 C78.42,867 79.39,864.77 80.36,862.52 C81.34,860.26 82.31,857.97 83.29,855.67 C84.26,853.36 85.23,851.03 86.21,848.68 C87.18,846.33 88.16,843.95 89.13,841.57 C90.1,839.18 91.08,836.78 92.05,834.37 C93.03,831.96 94,829.53 94.97,827.11 C95.95,824.68 96.92,822.25 97.89,819.82 C98.87,817.39 99.84,814.95 100.82,812.53 C101.79,810.11 102.76,807.68 103.74,805.28 C104.71,802.87 105.69,800.47 106.66,798.1 C107.63,795.72 108.61,793.36 109.58,791.03 C110.56,788.7 111.53,786.38 112.5,784.11 C113.48,781.83 114.45,779.58 115.42,777.37 C116.4,775.16 117.37,772.98 118.35,770.86 C119.32,768.73 120.29,766.64 121.27,764.6 C122.24,762.57 123.22,760.58 124.19,758.65 C125.16,756.72 126.14,754.84 127.11,753.03 C128.09,751.22 129.06,749.46 130.03,747.78 C131.01,746.09 131.98,744.47 132.95,742.93 C133.93,741.39 134.9,739.91 135.88,738.52 C136.85,737.12 137.82,735.8 138.8,734.57 C139.77,733.33 140.75,732.17 141.72,731.11 C142.69,730.04 143.67,729.05 144.64,728.16 C145.62,727.26 146.59,726.46 147.56,725.74 C148.54,725.03 149.51,724.4 150.49,723.87 C151.46,723.35 152.43,722.91 153.41,722.57 C154.38,722.23 155.35,721.98 156.33,721.83 C157.3,721.68 158.28,721.63 159.25,721.67 C160.22,721.71 161.2,721.85 162.17,722.08 C163.15,722.3 164.12,722.63 165.09,723.04 C166.07,723.45 167.04,723.96 168.01,724.55 C168.99,725.14 169.96,725.83 170.94,726.6 C171.91,727.37 172.88,728.24 173.86,729.18 C174.83,730.13 175.81,731.16 176.78,732.27 C177.75,733.38 178.73,734.58 179.7,735.85 C180.68,737.12 181.65,738.47 182.62,739.9 C183.6,741.32 184.57,742.82 185.55,744.38 C186.52,745.95 187.49,747.59 188.47,749.28 C189.44,750.98 190.41,752.74 191.39,754.56 C192.36,756.38 193.34,758.26 194.31,760.19 C195.28,762.12 196.26,764.11 197.23,766.14 C198.21,768.17 199.18,770.25 200.15,772.37 C201.13,774.48 202.1,776.65 203.08,778.84 C204.05,781.03 205.02,783.26 206,785.52 C206.97,787.78 207.94,790.07 208.92,792.37 C209.89,794.68 210.87,797.01 211.84,799.36 C212.81,801.71 213.79,804.07 214.76,806.45 C215.74,808.82 216.71,811.21 217.68,813.6 C218.66,815.99 219.63,818.39 220.61,820.78 C221.58,823.18 222.55,825.58 223.53,827.97 C224.5,830.35 225.47,832.74 226.45,835.11 C227.42,837.49 228.4,839.85 229.37,842.2 C230.34,844.55 231.32,846.88 232.29,849.19 C233.27,851.51 234.24,853.8 235.21,856.07 C236.19,858.34 237.16,860.59 238.13,862.81 C239.11,865.03 240.08,867.23 241.06,869.39 C242.03,871.56 243,873.69 243.98,875.79 C244.95,877.9 246.41,880.97 246.9,882" fill="none" stroke="#6e6e6e" stroke-width="1.4"/>
<path d="M162,882 C162.45,881.08 163.79,878.34 164.68,876.47 C165.57,874.6 166.47,872.69 167.36,870.77 C168.25,868.84 169.15,866.88 170.04,864.9 C170.93,862.92 171.83,860.92 172.72,858.89 C173.61,856.87 174.51,854.82 175.4,852.76 C176.29,850.7 177.19,848.62 178.08,846.53 C178.97,844.44 179.87,842.33 180.76,840.21 C181.65,838.1 182.55,835.97 183.44,833.84 C184.33,831.71 185.23,829.58 186.12,827.44 C187.01,825.31 187.91,823.17 188.8,821.04 C189.69,818.91 190.59,816.78 191.48,814.67 C192.37,812.55 193.27,810.44 194.16,808.35 C195.05,806.26 195.95,804.18 196.84,802.13 C197.73,800.07 198.63,798.03 199.52,796.02 C200.41,794.01 201.31,792.02 202.2,790.07 C203.09,788.12 203.99,786.19 204.88,784.31 C205.77,782.42 206.67,780.57 207.56,778.76 C208.45,776.96 209.35,775.19 210.24,773.47 C211.13,771.75 212.03,770.08 212.92,768.46 C213.81,766.84 214.71,765.27 215.6,763.76 C216.49,762.25 217.39,760.79 218.28,759.4 C219.17,758.01 220.07,756.68 220.96,755.41 C221.85,754.15 222.75,752.95 223.64,751.82 C224.53,750.69 225.43,749.63 226.32,748.64 C227.21,747.65 228.11,746.74 229,745.9 C229.89,745.06 230.79,744.3 231.68,743.62 C232.57,742.93 233.47,742.33 234.36,741.8 C235.25,741.28 236.15,740.83 237.04,740.47 C237.93,740.11 238.83,739.83 239.72,739.63 C240.61,739.43 241.51,739.32 242.4,739.29 C243.29,739.26 244.19,739.31 245.08,739.45 C245.97,739.59 246.87,739.81 247.76,740.12 C248.65,740.43 249.55,740.82 250.44,741.3 C251.33,741.77 252.23,742.33 253.12,742.97 C254.01,743.61 254.91,744.34 255.8,745.14 C256.69,745.94 257.59,746.82 258.48,747.77 C259.37,748.72 260.27,749.76 261.16,750.86 C262.05,751.96 262.95,753.14 263.84,754.38 C264.73,755.63 265.63,756.94 266.52,758.32 C267.41,759.69 268.31,761.14 269.2,762.64 C270.09,764.13 270.99,765.7 271.88,767.31 C272.77,768.92 273.67,770.6 274.56,772.31 C275.45,774.03 276.35,775.8 277.24,777.61 C278.13,779.42 279.03,781.29 279.92,783.18 C280.81,785.07 281.71,787.01 282.6,788.97 C283.49,790.94 284.39,792.94 285.28,794.97 C286.17,796.99 287.07,799.05 287.96,801.12 C288.85,803.2 289.75,805.3 290.64,807.41 C291.53,809.52 292.43,811.66 293.32,813.79 C294.21,815.93 295.11,818.09 296,820.24 C296.89,822.4 297.79,824.56 298.68,826.72 C299.57,828.88 300.47,831.05 301.36,833.2 C302.25,835.36 303.15,837.51 304.04,839.66 C304.93,841.8 305.83,843.94 306.72,846.06 C307.61,848.18 308.51,850.29 309.4,852.38 C310.29,854.46 311.19,856.54 312.08,858.59 C312.97,860.64 313.87,862.67 314.76,864.68 C315.65,866.68 316.55,868.67 317.44,870.62 C318.33,872.57 319.23,874.5 320.12,876.4 C321.01,878.3 322.35,881.07 322.8,882" fill="none" stroke="#5aa6be" stroke-width="1.4"/>
<line x1="158.6" y1="708.3" x2="158.6" y2="752" stroke="#222" stroke-width="1.3"/>
<line x1="242.9" y1="708.3" x2="242.9" y2="752" stroke="#222" stroke-width="1.3"/>
<line x1="158.6" y1="717.6" x2="236.3" y2="717.6" stroke="#222" stroke-width="1.3"/>
<path d="M242.3,717.6 L233.3,714.4 L233.3,720.8 Z" fill="#111"/>
<line x1="63.4" y1="666.4" x2="88.7" y2="666.4" stroke="#6e6e6e" stroke-width="1.6"/>
<line x1="63.4" y1="686.6" x2="88.7" y2="686.6" stroke="#5aa6be" stroke-width="1.6"/>
<text x="97.1" y="672.1" font-size="17" font-family='"Liberation Serif", "Times New Roman", serif' fill="#111" stroke="#111" stroke-width="0.3" textLength="204.6" lengthAdjust="spacingAndGlyphs">MeO-4PACz <tspan font-style="italic">P</tspan> = -228.7 mV</text>
<text x="97.1" y="692.1" font-size="17" font-family='"Liberation Serif", "Times New Roman", serif' fill="#111" stroke="#111" stroke-width="0.3" textLength="150.5" lengthAdjust="spacingAndGlyphs">Wash <tspan font-style="italic">P</tspan> = -169.4 mV</text>
<rect x="57.2" y="653.2" width="284.4" height="228.8" fill="none" stroke="#111" stroke-width="1.9"/>
<line x1="53.3" y1="882" x2="57.2" y2="882" stroke="#111" stroke-width="1.5"/>
<text transform="translate(48.4,888.3)" font-size="18.6" text-anchor="end" font-family='"Liberation Serif", "Times New Roman", serif' fill="#111" stroke="#111" stroke-width="0.3">0</text>
<line x1="55" y1="859.98" x2="57.2" y2="859.98" stroke="#111" stroke-width="1.2"/>
<line x1="53.3" y1="837.95" x2="57.2" y2="837.95" stroke="#111" stroke-width="1.5"/>
<text transform="translate(48.4,844.25)" font-size="18.6" text-anchor="end" font-family='"Liberation Serif", "Times New Roman", serif' fill="#111" stroke="#111" stroke-width="0.3">5</text>
<line x1="55" y1="815.92" x2="57.2" y2="815.92" stroke="#111" stroke-width="1.2"/>
<line x1="53.3" y1="793.9" x2="57.2" y2="793.9" stroke="#111" stroke-width="1.5"/>
<text transform="translate(48.4,800.2)" font-size="18.6" text-anchor="end" font-family='"Liberation Serif", "Times New Roman", serif' fill="#111" stroke="#111" stroke-width="0.3">10</text>
<line x1="55" y1="771.88" x2="57.2" y2="771.88" stroke="#111" stroke-width="1.2"/>
<line x1="53.3" y1="749.85" x2="57.2" y2="749.85" stroke="#111" stroke-width="1.5"/>
<text transform="translate(48.4,756.15)" font-size="18.6" text-anchor="end" font-family='"Liberation Serif", "Times New Roman", serif' fill="#111" stroke="#111" stroke-width="0.3">15</text>
<line x1="55" y1="727.83" x2="57.2" y2="727.83" stroke="#111" stroke-width="1.2"/>
<line x1="53.3" y1="705.8" x2="57.2" y2="705.8" stroke="#111" stroke-width="1.5"/>
<text transform="translate(48.4,712.1)" font-size="18.6" text-anchor="end" font-family='"Liberation Serif", "Times New Roman", serif' fill="#111" stroke="#111" stroke-width="0.3">20</text>
<line x1="55" y1="683.77" x2="57.2" y2="683.77" stroke="#111" stroke-width="1.2"/>
<line x1="53.3" y1="661.75" x2="57.2" y2="661.75" stroke="#111" stroke-width="1.5"/>
<text transform="translate(48.4,668.05)" font-size="18.6" text-anchor="end" font-family='"Liberation Serif", "Times New Roman", serif' fill="#111" stroke="#111" stroke-width="0.3">25</text>
<line x1="57.2" y1="882" x2="57.2" y2="886.2" stroke="#111" stroke-width="1.5"/>
<text transform="translate(57.2,905)" font-size="17.6" text-anchor="middle" font-family='"Liberation Serif", "Times New Roman", serif' fill="#111" stroke="#111" stroke-width="0.3">−300</text>
<line x1="92.75" y1="882" x2="92.75" y2="884.2" stroke="#111" stroke-width="1.2"/>
<line x1="128.3" y1="882" x2="128.3" y2="886.2" stroke="#111" stroke-width="1.5"/>
<text transform="translate(128.3,905)" font-size="17.6" text-anchor="middle" font-family='"Liberation Serif", "Times New Roman", serif' fill="#111" stroke="#111" stroke-width="0.3">−250</text>
<line x1="163.85" y1="882" x2="163.85" y2="884.2" stroke="#111" stroke-width="1.2"/>
<line x1="199.4" y1="882" x2="199.4" y2="886.2" stroke="#111" stroke-width="1.5"/>
<text transform="translate(199.4,905)" font-size="17.6" text-anchor="middle" font-family='"Liberation Serif", "Times New Roman", serif' fill="#111" stroke="#111" stroke-width="0.3">−200</text>
<line x1="234.95" y1="882" x2="234.95" y2="884.2" stroke="#111" stroke-width="1.2"/>
<line x1="270.5" y1="882" x2="270.5" y2="886.2" stroke="#111" stroke-width="1.5"/>
<text transform="translate(270.5,905)" font-size="17.6" text-anchor="middle" font-family='"Liberation Serif", "Times New Roman", serif' fill="#111" stroke="#111" stroke-width="0.3">−150</text>
<line x1="306.05" y1="882" x2="306.05" y2="884.2" stroke="#111" stroke-width="1.2"/>
<line x1="341.6" y1="882" x2="341.6" y2="886.2" stroke="#111" stroke-width="1.5"/>
<text transform="translate(341.6,905)" font-size="17.6" text-anchor="middle" font-family='"Liberation Serif", "Times New Roman", serif' fill="#111" stroke="#111" stroke-width="0.3">−100</text>
<text transform="translate(126.5,931.7)" font-size="24" text-anchor="start" font-family='"Liberation Serif", "Times New Roman", serif' fill="#111" textLength="145.8" lengthAdjust="spacingAndGlyphs" stroke="#111" stroke-width="0.3">Potential (mV)</text>
<text transform="translate(22.9,863.6) rotate(-90)" font-size="24.5" text-anchor="start" font-family='"Liberation Serif", "Times New Roman", serif' fill="#111" textLength="196" lengthAdjust="spacingAndGlyphs" stroke="#111" stroke-width="0.3">Data histogram (%)</text>
<rect x="472" y="858.21" width="13.4" height="23.79" fill="#dfdfdf"/>
<rect x="490.7" y="790.38" width="13.4" height="91.62" fill="#dfdfdf"/>
<rect x="509.4" y="751.61" width="13.4" height="130.39" fill="#dfdfdf"/>
<rect x="528.1" y="726.06" width="13.4" height="155.94" fill="#dfdfdf"/>
<rect x="546.8" y="751.61" width="13.4" height="130.39" fill="#dfdfdf"/>
<rect x="565.5" y="762.18" width="13.4" height="119.82" fill="#dfdfdf"/>
<rect x="584.2" y="785.09" width="13.4" height="96.91" fill="#dfdfdf"/>
<rect x="602.9" y="785.97" width="13.4" height="96.03" fill="#dfdfdf"/>
<rect x="621.6" y="867.9" width="13.4" height="14.1" fill="#dfdfdf"/>
<rect x="491.2" y="865.26" width="14.8" height="16.74" fill="#aab0f2" fill-opacity="0.75"/>
<rect x="510.65" y="794.78" width="14.8" height="87.22" fill="#aab0f2" fill-opacity="0.75"/>
<rect x="530.1" y="741.04" width="14.8" height="140.96" fill="#aab0f2" fill-opacity="0.75"/>
<rect x="549.55" y="723.42" width="14.8" height="158.58" fill="#aab0f2" fill-opacity="0.75"/>
<rect x="569" y="724.3" width="14.8" height="157.7" fill="#aab0f2" fill-opacity="0.75"/>
<rect x="588.45" y="759.54" width="14.8" height="122.46" fill="#aab0f2" fill-opacity="0.75"/>
<rect x="607.9" y="769.23" width="14.8" height="112.77" fill="#aab0f2" fill-opacity="0.75"/>
<rect x="627.35" y="804.91" width="14.8" height="77.09" fill="#aab0f2" fill-opacity="0.75"/>
<rect x="646.8" y="877.6" width="14.8" height="4.41" fill="#aab0f2" fill-opacity="0.75"/>
<path d="M462.1,882 C462.59,881.01 464.04,878.09 465.01,876.08 C465.98,874.08 466.95,872.04 467.92,869.98 C468.89,867.92 469.86,865.82 470.83,863.7 C471.8,861.58 472.77,859.43 473.74,857.27 C474.71,855.1 475.68,852.91 476.65,850.7 C477.62,848.49 478.59,846.26 479.56,844.02 C480.53,841.78 481.5,839.52 482.47,837.26 C483.44,835 484.41,832.72 485.38,830.44 C486.35,828.16 487.32,825.88 488.29,823.6 C489.26,821.31 490.23,819.03 491.2,816.75 C492.17,814.48 493.14,812.2 494.11,809.95 C495.08,807.69 496.05,805.44 497.02,803.21 C497.99,800.98 498.96,798.77 499.93,796.58 C500.9,794.39 501.87,792.23 502.84,790.09 C503.81,787.96 504.78,785.85 505.75,783.78 C506.72,781.71 507.69,779.67 508.66,777.68 C509.63,775.69 510.6,773.74 511.57,771.83 C512.54,769.93 513.51,768.07 514.48,766.27 C515.45,764.47 516.42,762.72 517.39,761.03 C518.36,759.34 519.33,757.7 520.3,756.13 C521.27,754.57 522.24,753.06 523.21,751.62 C524.18,750.19 525.15,748.82 526.12,747.53 C527.09,746.24 528.06,745.01 529.03,743.87 C530,742.73 530.97,741.66 531.94,740.68 C532.91,739.7 533.88,738.79 534.85,737.98 C535.82,737.16 536.79,736.42 537.76,735.78 C538.73,735.13 539.7,734.57 540.67,734.09 C541.64,733.62 542.61,733.24 543.58,732.95 C544.55,732.65 545.52,732.45 546.49,732.34 C547.46,732.22 548.43,732.2 549.4,732.27 C550.37,732.33 551.34,732.48 552.31,732.72 C553.28,732.96 554.25,733.28 555.22,733.69 C556.19,734.1 557.16,734.59 558.13,735.17 C559.1,735.74 560.07,736.4 561.04,737.14 C562.01,737.88 562.98,738.7 563.95,739.6 C564.92,740.5 565.89,741.48 566.86,742.53 C567.83,743.58 568.8,744.71 569.77,745.91 C570.74,747.11 571.71,748.38 572.68,749.72 C573.65,751.05 574.62,752.46 575.59,753.93 C576.56,755.4 577.53,756.93 578.5,758.52 C579.47,760.11 580.44,761.76 581.41,763.46 C582.38,765.16 583.35,766.92 584.32,768.73 C585.29,770.53 586.26,772.38 587.23,774.28 C588.2,776.17 589.17,778.11 590.14,780.08 C591.11,782.06 592.08,784.07 593.05,786.11 C594.02,788.16 594.99,790.24 595.96,792.33 C596.93,794.43 597.9,796.57 598.87,798.71 C599.84,800.86 600.81,803.03 601.78,805.21 C602.75,807.4 603.72,809.6 604.69,811.8 C605.66,814.01 606.63,816.23 607.6,818.45 C608.57,820.67 609.54,822.91 610.51,825.13 C611.48,827.35 612.45,829.58 613.42,831.8 C614.39,834.02 615.36,836.24 616.33,838.44 C617.3,840.65 618.27,842.85 619.24,845.03 C620.21,847.21 621.18,849.38 622.15,851.52 C623.12,853.67 624.09,855.81 625.06,857.91 C626.03,860.02 627,862.11 627.97,864.17 C628.94,866.24 629.91,868.28 630.88,870.29 C631.85,872.3 632.82,874.28 633.79,876.23 C634.76,878.19 636.22,881.04 636.7,882" fill="none" stroke="#666666" stroke-width="1.4"/>
<path d="M481.8,882 C482.3,880.96 483.8,877.87 484.8,875.76 C485.8,873.65 486.8,871.5 487.8,869.32 C488.8,867.15 489.8,864.94 490.8,862.71 C491.79,860.47 492.79,858.21 493.79,855.93 C494.79,853.64 495.79,851.33 496.79,849.01 C497.79,846.68 498.79,844.33 499.79,841.97 C500.79,839.61 501.79,837.23 502.79,834.85 C503.79,832.46 504.79,830.06 505.79,827.66 C506.79,825.26 507.79,822.84 508.79,820.44 C509.78,818.03 510.78,815.61 511.78,813.21 C512.78,810.81 513.78,808.41 514.78,806.02 C515.78,803.63 516.78,801.25 517.78,798.89 C518.78,796.53 519.78,794.18 520.78,791.86 C521.78,789.54 522.78,787.24 523.78,784.97 C524.78,782.7 525.78,780.46 526.77,778.25 C527.77,776.05 528.77,773.87 529.77,771.75 C530.77,769.62 531.77,767.52 532.77,765.48 C533.77,763.44 534.77,761.45 535.77,759.51 C536.77,757.56 537.77,755.67 538.77,753.84 C539.77,752.02 540.77,750.24 541.77,748.53 C542.77,746.83 543.77,745.18 544.76,743.61 C545.76,742.04 546.76,740.53 547.76,739.1 C548.76,737.67 549.76,736.31 550.76,735.03 C551.76,733.75 552.76,732.55 553.76,731.43 C554.76,730.32 555.76,729.28 556.76,728.33 C557.76,727.38 558.76,726.51 559.76,725.74 C560.76,724.96 561.76,724.27 562.75,723.68 C563.75,723.08 564.75,722.57 565.75,722.16 C566.75,721.74 567.75,721.42 568.75,721.19 C569.75,720.97 570.75,720.83 571.75,720.79 C572.75,720.75 573.75,720.8 574.75,720.95 C575.75,721.11 576.75,721.35 577.75,721.7 C578.75,722.04 579.75,722.48 580.75,723.01 C581.74,723.55 582.74,724.17 583.74,724.89 C584.74,725.61 585.74,726.43 586.74,727.33 C587.74,728.22 588.74,729.22 589.74,730.29 C590.74,731.37 591.74,732.53 592.74,733.77 C593.74,735.02 594.74,736.34 595.74,737.75 C596.74,739.15 597.74,740.63 598.74,742.18 C599.73,743.74 600.73,745.37 601.73,747.06 C602.73,748.75 603.73,750.52 604.73,752.34 C605.73,754.16 606.73,756.05 607.73,757.99 C608.73,759.93 609.73,761.93 610.73,763.98 C611.73,766.02 612.73,768.12 613.73,770.26 C614.73,772.4 615.73,774.59 616.73,776.81 C617.72,779.03 618.72,781.3 619.72,783.59 C620.72,785.88 621.72,788.2 622.72,790.55 C623.72,792.89 624.72,795.27 625.72,797.65 C626.72,800.04 627.72,802.45 628.72,804.87 C629.72,807.29 630.72,809.73 631.72,812.16 C632.72,814.6 633.72,817.05 634.72,819.49 C635.71,821.93 636.71,824.38 637.71,826.82 C638.71,829.26 639.71,831.69 640.71,834.12 C641.71,836.54 642.71,838.96 643.71,841.35 C644.71,843.75 645.71,846.14 646.71,848.5 C647.71,850.86 648.71,853.21 649.71,855.53 C650.71,857.85 651.71,860.14 652.71,862.41 C653.7,864.68 654.7,866.92 655.7,869.13 C656.7,871.34 657.7,873.52 658.7,875.67 C659.7,877.81 661.2,880.94 661.7,882" fill="none" stroke="#727bc4" stroke-width="1.4"/>
<line x1="548.3" y1="704.5" x2="548.3" y2="747.2" stroke="#222" stroke-width="1.3"/>
<line x1="572.4" y1="704.5" x2="572.4" y2="747.2" stroke="#222" stroke-width="1.3"/>
<line x1="548.3" y1="713.3" x2="565.8" y2="713.3" stroke="#222" stroke-width="1.3"/>
<path d="M571.8,713.3 L562.8,710.1 L562.8,716.5 Z" fill="#111"/>
<line x1="423" y1="667.6" x2="450.2" y2="667.6" stroke="#666666" stroke-width="1.6"/>
<line x1="423" y1="688.1" x2="450.2" y2="688.1" stroke="#727bc4" stroke-width="1.6"/>
<text x="457.2" y="672.8" font-size="17" font-family='"Liberation Serif", "Times New Roman", serif' fill="#111" stroke="#111" stroke-width="0.3" textLength="208.2" lengthAdjust="spacingAndGlyphs">with PT-COF <tspan font-style="italic">P</tspan> = -307.0 mV</text>
<text x="457.2" y="693.3" font-size="17" font-family='"Liberation Serif", "Times New Roman", serif' fill="#111" stroke="#111" stroke-width="0.3" textLength="151.1" lengthAdjust="spacingAndGlyphs">Wash <tspan font-style="italic">P</tspan> = -290.1 mV</text>
<rect x="415.8" y="653.2" width="284.9" height="228.8" fill="none" stroke="#111" stroke-width="1.9"/>
<line x1="411.9" y1="882" x2="415.8" y2="882" stroke="#111" stroke-width="1.5"/>
<text transform="translate(407,888.3)" font-size="18.6" text-anchor="end" font-family='"Liberation Serif", "Times New Roman", serif' fill="#111" stroke="#111" stroke-width="0.3">0</text>
<line x1="413.6" y1="859.98" x2="415.8" y2="859.98" stroke="#111" stroke-width="1.2"/>
<line x1="411.9" y1="837.95" x2="415.8" y2="837.95" stroke="#111" stroke-width="1.5"/>
<text transform="translate(407,844.25)" font-size="18.6" text-anchor="end" font-family='"Liberation Serif", "Times New Roman", serif' fill="#111" stroke="#111" stroke-width="0.3">5</text>
<line x1="413.6" y1="815.92" x2="415.8" y2="815.92" stroke="#111" stroke-width="1.2"/>
<line x1="411.9" y1="793.9" x2="415.8" y2="793.9" stroke="#111" stroke-width="1.5"/>
<text transform="translate(407,800.2)" font-size="18.6" text-anchor="end" font-family='"Liberation Serif", "Times New Roman", serif' fill="#111" stroke="#111" stroke-width="0.3">10</text>
<line x1="413.6" y1="771.88" x2="415.8" y2="771.88" stroke="#111" stroke-width="1.2"/>
<line x1="411.9" y1="749.85" x2="415.8" y2="749.85" stroke="#111" stroke-width="1.5"/>
<text transform="translate(407,756.15)" font-size="18.6" text-anchor="end" font-family='"Liberation Serif", "Times New Roman", serif' fill="#111" stroke="#111" stroke-width="0.3">15</text>
<line x1="413.6" y1="727.83" x2="415.8" y2="727.83" stroke="#111" stroke-width="1.2"/>
<line x1="411.9" y1="705.8" x2="415.8" y2="705.8" stroke="#111" stroke-width="1.5"/>
<text transform="translate(407,712.1)" font-size="18.6" text-anchor="end" font-family='"Liberation Serif", "Times New Roman", serif' fill="#111" stroke="#111" stroke-width="0.3">20</text>
<line x1="413.6" y1="683.77" x2="415.8" y2="683.77" stroke="#111" stroke-width="1.2"/>
<line x1="411.9" y1="661.75" x2="415.8" y2="661.75" stroke="#111" stroke-width="1.5"/>
<text transform="translate(407,668.05)" font-size="18.6" text-anchor="end" font-family='"Liberation Serif", "Times New Roman", serif' fill="#111" stroke="#111" stroke-width="0.3">25</text>
<line x1="415.8" y1="882" x2="415.8" y2="886.2" stroke="#111" stroke-width="1.5"/>
<text transform="translate(415.8,905)" font-size="17.6" text-anchor="middle" font-family='"Liberation Serif", "Times New Roman", serif' fill="#111" stroke="#111" stroke-width="0.3">−400</text>
<line x1="451.41" y1="882" x2="451.41" y2="884.2" stroke="#111" stroke-width="1.2"/>
<line x1="487.03" y1="882" x2="487.03" y2="886.2" stroke="#111" stroke-width="1.5"/>
<text transform="translate(487.03,905)" font-size="17.6" text-anchor="middle" font-family='"Liberation Serif", "Times New Roman", serif' fill="#111" stroke="#111" stroke-width="0.3">−350</text>
<line x1="522.64" y1="882" x2="522.64" y2="884.2" stroke="#111" stroke-width="1.2"/>
<line x1="558.25" y1="882" x2="558.25" y2="886.2" stroke="#111" stroke-width="1.5"/>
<text transform="translate(558.25,905)" font-size="17.6" text-anchor="middle" font-family='"Liberation Serif", "Times New Roman", serif' fill="#111" stroke="#111" stroke-width="0.3">−300</text>
<line x1="593.86" y1="882" x2="593.86" y2="884.2" stroke="#111" stroke-width="1.2"/>
<line x1="629.48" y1="882" x2="629.48" y2="886.2" stroke="#111" stroke-width="1.5"/>
<text transform="translate(629.48,905)" font-size="17.6" text-anchor="middle" font-family='"Liberation Serif", "Times New Roman", serif' fill="#111" stroke="#111" stroke-width="0.3">−250</text>
<line x1="665.09" y1="882" x2="665.09" y2="884.2" stroke="#111" stroke-width="1.2"/>
<line x1="700.7" y1="882" x2="700.7" y2="886.2" stroke="#111" stroke-width="1.5"/>
<text transform="translate(700.7,905)" font-size="17.6" text-anchor="middle" font-family='"Liberation Serif", "Times New Roman", serif' fill="#111" stroke="#111" stroke-width="0.3">−200</text>
<text transform="translate(485.35,931.7)" font-size="24" text-anchor="start" font-family='"Liberation Serif", "Times New Roman", serif' fill="#111" textLength="145.8" lengthAdjust="spacingAndGlyphs" stroke="#111" stroke-width="0.3">Potential (mV)</text>
<text transform="translate(382.1,863.6) rotate(-90)" font-size="24.5" text-anchor="start" font-family='"Liberation Serif", "Times New Roman", serif' fill="#111" textLength="196" lengthAdjust="spacingAndGlyphs" stroke="#111" stroke-width="0.3">Data histogram (%)</text>
<rect x="823.5" y="861.74" width="12.5" height="20.26" fill="#dfdfdf"/>
<rect x="841.1" y="797.42" width="12.5" height="84.58" fill="#dfdfdf"/>
<rect x="858.7" y="748.97" width="12.5" height="133.03" fill="#dfdfdf"/>
<rect x="876.3" y="726.06" width="12.5" height="155.94" fill="#dfdfdf"/>
<rect x="893.9" y="730.47" width="12.5" height="151.53" fill="#dfdfdf"/>
<rect x="911.5" y="752.49" width="12.5" height="129.51" fill="#dfdfdf"/>
<rect x="929.1" y="776.28" width="12.5" height="105.72" fill="#dfdfdf"/>
<rect x="946.7" y="788.61" width="12.5" height="93.39" fill="#dfdfdf"/>
<rect x="964.3" y="869.67" width="12.5" height="12.33" fill="#dfdfdf"/>
<rect x="835" y="855.57" width="13.2" height="26.43" fill="#e4b6f2" fill-opacity="0.8"/>
<rect x="851.8" y="790.82" width="13.2" height="91.18" fill="#e4b6f2" fill-opacity="0.8"/>
<rect x="868.6" y="738.84" width="13.2" height="143.16" fill="#e4b6f2" fill-opacity="0.8"/>
<rect x="885.4" y="722.1" width="13.2" height="159.9" fill="#e4b6f2" fill-opacity="0.8"/>
<rect x="902.2" y="727.83" width="13.2" height="154.18" fill="#e4b6f2" fill-opacity="0.8"/>
<rect x="919" y="760.42" width="13.2" height="121.58" fill="#e4b6f2" fill-opacity="0.8"/>
<rect x="935.8" y="781.57" width="13.2" height="100.43" fill="#e4b6f2" fill-opacity="0.8"/>
<rect x="952.6" y="809.76" width="13.2" height="72.24" fill="#e4b6f2" fill-opacity="0.8"/>
<rect x="969.4" y="879.36" width="13.2" height="2.64" fill="#e4b6f2" fill-opacity="0.8"/>
<path d="M816.2,882 C816.65,881 818.01,878.03 818.92,876 C819.83,873.97 820.73,871.9 821.64,869.81 C822.55,867.72 823.45,865.59 824.36,863.44 C825.27,861.3 826.17,859.12 827.08,856.92 C827.99,854.73 828.89,852.5 829.8,850.27 C830.71,848.03 831.61,845.77 832.52,843.5 C833.43,841.23 834.33,838.94 835.24,836.64 C836.15,834.35 837.05,832.04 837.96,829.73 C838.87,827.42 839.77,825.1 840.68,822.79 C841.59,820.47 842.49,818.15 843.4,815.84 C844.31,813.54 845.21,811.23 846.12,808.94 C847.03,806.64 847.93,804.36 848.84,802.09 C849.75,799.83 850.65,797.58 851.56,795.35 C852.47,793.13 853.37,790.92 854.28,788.75 C855.19,786.58 856.09,784.43 857,782.33 C857.91,780.22 858.81,778.14 859.72,776.11 C860.63,774.08 861.53,772.08 862.44,770.14 C863.35,768.19 864.25,766.29 865.16,764.44 C866.07,762.6 866.97,760.8 867.88,759.07 C868.79,757.33 869.69,755.65 870.6,754.04 C871.51,752.43 872.41,750.87 873.32,749.39 C874.23,747.91 875.13,746.5 876.04,745.16 C876.95,743.82 877.85,742.54 878.76,741.36 C879.67,740.17 880.57,739.05 881.48,738.02 C882.39,736.98 883.29,736.03 884.2,735.16 C885.11,734.3 886.01,733.51 886.92,732.81 C887.83,732.12 888.73,731.5 889.64,730.98 C890.55,730.46 891.45,730.02 892.36,729.68 C893.27,729.34 894.17,729.08 895.08,728.92 C895.99,728.76 896.89,728.69 897.8,728.71 C898.71,728.73 899.61,728.84 900.52,729.04 C901.43,729.24 902.33,729.53 903.24,729.9 C904.15,730.28 905.05,730.75 905.96,731.3 C906.87,731.85 907.77,732.5 908.68,733.22 C909.59,733.95 910.49,734.76 911.4,735.65 C912.31,736.54 913.21,737.52 914.12,738.57 C915.03,739.62 915.93,740.76 916.84,741.96 C917.75,743.17 918.65,744.46 919.56,745.81 C920.47,747.16 921.37,748.59 922.28,750.08 C923.19,751.57 924.09,753.14 925,754.75 C925.91,756.37 926.81,758.06 927.72,759.8 C928.63,761.53 929.53,763.33 930.44,765.18 C931.35,767.02 932.25,768.92 933.16,770.86 C934.07,772.81 934.97,774.8 935.88,776.82 C936.79,778.85 937.69,780.92 938.6,783.02 C939.51,785.12 940.41,787.26 941.32,789.42 C942.23,791.58 943.13,793.78 944.04,795.99 C944.95,798.2 945.85,800.44 946.76,802.69 C947.67,804.94 948.57,807.21 949.48,809.49 C950.39,811.77 951.29,814.06 952.2,816.35 C953.11,818.64 954.01,820.95 954.92,823.24 C955.83,825.54 956.73,827.84 957.64,830.14 C958.55,832.43 959.45,834.72 960.36,837 C961.27,839.27 962.17,841.55 963.08,843.8 C963.99,846.05 964.89,848.29 965.8,850.51 C966.71,852.73 967.61,854.94 968.52,857.12 C969.43,859.3 970.33,861.46 971.24,863.59 C972.15,865.72 973.05,867.83 973.96,869.9 C974.87,871.98 975.77,874.03 976.68,876.05 C977.59,878.06 978.95,881.01 979.4,882" fill="none" stroke="#6a6a6a" stroke-width="1.4"/>
<path d="M826.6,882 C827.03,880.96 828.31,877.89 829.16,875.78 C830.02,873.68 830.87,871.54 831.73,869.37 C832.58,867.2 833.44,865 834.29,862.77 C835.14,860.55 836,858.29 836.85,856.02 C837.71,853.74 838.56,851.44 839.42,849.12 C840.27,846.8 841.13,844.46 841.98,842.11 C842.83,839.75 843.69,837.38 844.54,835 C845.4,832.63 846.25,830.23 847.11,827.84 C847.96,825.45 848.82,823.04 849.67,820.65 C850.52,818.25 851.38,815.84 852.23,813.45 C853.09,811.06 853.94,808.67 854.8,806.3 C855.65,803.92 856.51,801.55 857.36,799.21 C858.21,796.86 859.07,794.53 859.92,792.23 C860.78,789.93 861.63,787.64 862.49,785.39 C863.34,783.14 864.2,780.92 865.05,778.74 C865.9,776.56 866.76,774.4 867.61,772.3 C868.47,770.2 869.32,768.13 870.18,766.12 C871.03,764.11 871.89,762.14 872.74,760.23 C873.59,758.32 874.45,756.47 875.3,754.67 C876.16,752.88 877.01,751.14 877.87,749.47 C878.72,747.81 879.58,746.2 880.43,744.67 C881.28,743.14 882.14,741.68 882.99,740.3 C883.85,738.91 884.7,737.6 885.56,736.38 C886.41,735.15 887.27,734 888.12,732.93 C888.97,731.87 889.83,730.89 890.68,730 C891.54,729.1 892.39,728.3 893.25,727.58 C894.1,726.87 894.96,726.24 895.81,725.71 C896.66,725.17 897.52,724.73 898.37,724.38 C899.23,724.04 900.08,723.78 900.94,723.62 C901.79,723.46 902.65,723.4 903.5,723.43 C904.35,723.45 905.21,723.58 906.06,723.79 C906.92,724.01 907.77,724.31 908.63,724.71 C909.48,725.11 910.34,725.6 911.19,726.18 C912.04,726.75 912.9,727.42 913.75,728.18 C914.61,728.93 915.46,729.78 916.32,730.71 C917.17,731.63 918.03,732.65 918.88,733.74 C919.73,734.84 920.59,736.01 921.44,737.27 C922.3,738.52 923.15,739.85 924.01,741.25 C924.86,742.66 925.72,744.14 926.57,745.68 C927.42,747.23 928.28,748.84 929.13,750.52 C929.99,752.2 930.84,753.94 931.7,755.74 C932.55,757.54 933.41,759.4 934.26,761.31 C935.11,763.21 935.97,765.18 936.82,767.19 C937.68,769.2 938.53,771.26 939.39,773.35 C940.24,775.45 941.1,777.59 941.95,779.76 C942.8,781.93 943.66,784.14 944.51,786.37 C945.37,788.61 946.22,790.88 947.08,793.16 C947.93,795.45 948.79,797.76 949.64,800.08 C950.49,802.41 951.35,804.76 952.2,807.11 C953.06,809.46 953.91,811.83 954.77,814.2 C955.62,816.56 956.48,818.94 957.33,821.32 C958.18,823.69 959.04,826.07 959.89,828.43 C960.75,830.8 961.6,833.17 962.46,835.52 C963.31,837.87 964.17,840.22 965.02,842.54 C965.87,844.87 966.73,847.19 967.58,849.48 C968.44,851.77 969.29,854.05 970.15,856.3 C971,858.55 971.86,860.78 972.71,862.98 C973.56,865.18 974.42,867.36 975.27,869.5 C976.13,871.65 976.98,873.77 977.84,875.85 C978.69,877.93 979.97,880.97 980.4,882" fill="none" stroke="#b478d4" stroke-width="1.4"/>
<line x1="897.5" y1="703.5" x2="897.5" y2="747.2" stroke="#222" stroke-width="1.3"/>
<line x1="903.1" y1="703.5" x2="903.1" y2="747.2" stroke="#222" stroke-width="1.3"/>
<line x1="778.3" y1="666.1" x2="803.9" y2="666.1" stroke="#6a6a6a" stroke-width="1.6"/>
<line x1="778.3" y1="686.7" x2="803.9" y2="686.7" stroke="#b478d4" stroke-width="1.6"/>
<text x="812.2" y="672.2" font-size="17" font-family='"Liberation Serif", "Times New Roman", serif' fill="#111" stroke="#111" stroke-width="0.3" textLength="234.7" lengthAdjust="spacingAndGlyphs">with Zn-PT-COF <tspan font-style="italic">P</tspan> = -311.7 mV</text>
<text x="812.2" y="693.1" font-size="17" font-family='"Liberation Serif", "Times New Roman", serif' fill="#111" stroke="#111" stroke-width="0.3" textLength="152.2" lengthAdjust="spacingAndGlyphs">Wash <tspan font-style="italic">P</tspan> = -307.6 mV</text>
<rect x="771.9" y="652.8" width="284.7" height="229.2" fill="none" stroke="#111" stroke-width="1.9"/>
<line x1="768" y1="882" x2="771.9" y2="882" stroke="#111" stroke-width="1.5"/>
<text transform="translate(763.1,888.3)" font-size="18.6" text-anchor="end" font-family='"Liberation Serif", "Times New Roman", serif' fill="#111" stroke="#111" stroke-width="0.3">0</text>
<line x1="769.7" y1="859.98" x2="771.9" y2="859.98" stroke="#111" stroke-width="1.2"/>
<line x1="768" y1="837.95" x2="771.9" y2="837.95" stroke="#111" stroke-width="1.5"/>
<text transform="translate(763.1,844.25)" font-size="18.6" text-anchor="end" font-family='"Liberation Serif", "Times New Roman", serif' fill="#111" stroke="#111" stroke-width="0.3">5</text>
<line x1="769.7" y1="815.92" x2="771.9" y2="815.92" stroke="#111" stroke-width="1.2"/>
<line x1="768" y1="793.9" x2="771.9" y2="793.9" stroke="#111" stroke-width="1.5"/>
<text transform="translate(763.1,800.2)" font-size="18.6" text-anchor="end" font-family='"Liberation Serif", "Times New Roman", serif' fill="#111" stroke="#111" stroke-width="0.3">10</text>
<line x1="769.7" y1="771.88" x2="771.9" y2="771.88" stroke="#111" stroke-width="1.2"/>
<line x1="768" y1="749.85" x2="771.9" y2="749.85" stroke="#111" stroke-width="1.5"/>
<text transform="translate(763.1,756.15)" font-size="18.6" text-anchor="end" font-family='"Liberation Serif", "Times New Roman", serif' fill="#111" stroke="#111" stroke-width="0.3">15</text>
<line x1="769.7" y1="727.83" x2="771.9" y2="727.83" stroke="#111" stroke-width="1.2"/>
<line x1="768" y1="705.8" x2="771.9" y2="705.8" stroke="#111" stroke-width="1.5"/>
<text transform="translate(763.1,712.1)" font-size="18.6" text-anchor="end" font-family='"Liberation Serif", "Times New Roman", serif' fill="#111" stroke="#111" stroke-width="0.3">20</text>
<line x1="769.7" y1="683.77" x2="771.9" y2="683.77" stroke="#111" stroke-width="1.2"/>
<line x1="768" y1="661.75" x2="771.9" y2="661.75" stroke="#111" stroke-width="1.5"/>
<text transform="translate(763.1,668.05)" font-size="18.6" text-anchor="end" font-family='"Liberation Serif", "Times New Roman", serif' fill="#111" stroke="#111" stroke-width="0.3">25</text>
<line x1="771.9" y1="882" x2="771.9" y2="886.2" stroke="#111" stroke-width="1.5"/>
<text transform="translate(771.9,905)" font-size="17.6" text-anchor="middle" font-family='"Liberation Serif", "Times New Roman", serif' fill="#111" stroke="#111" stroke-width="0.3">−400</text>
<line x1="807.49" y1="882" x2="807.49" y2="884.2" stroke="#111" stroke-width="1.2"/>
<line x1="843.07" y1="882" x2="843.07" y2="886.2" stroke="#111" stroke-width="1.5"/>
<text transform="translate(843.07,905)" font-size="17.6" text-anchor="middle" font-family='"Liberation Serif", "Times New Roman", serif' fill="#111" stroke="#111" stroke-width="0.3">−350</text>
<line x1="878.66" y1="882" x2="878.66" y2="884.2" stroke="#111" stroke-width="1.2"/>
<line x1="914.25" y1="882" x2="914.25" y2="886.2" stroke="#111" stroke-width="1.5"/>
<text transform="translate(914.25,905)" font-size="17.6" text-anchor="middle" font-family='"Liberation Serif", "Times New Roman", serif' fill="#111" stroke="#111" stroke-width="0.3">−300</text>
<line x1="949.84" y1="882" x2="949.84" y2="884.2" stroke="#111" stroke-width="1.2"/>
<line x1="985.42" y1="882" x2="985.42" y2="886.2" stroke="#111" stroke-width="1.5"/>
<text transform="translate(985.42,905)" font-size="17.6" text-anchor="middle" font-family='"Liberation Serif", "Times New Roman", serif' fill="#111" stroke="#111" stroke-width="0.3">−250</text>
<line x1="1021.01" y1="882" x2="1021.01" y2="884.2" stroke="#111" stroke-width="1.2"/>
<line x1="1056.6" y1="882" x2="1056.6" y2="886.2" stroke="#111" stroke-width="1.5"/>
<text transform="translate(1056.6,905)" font-size="17.6" text-anchor="middle" font-family='"Liberation Serif", "Times New Roman", serif' fill="#111" stroke="#111" stroke-width="0.3">−200</text>
<text transform="translate(841.35,931.7)" font-size="24" text-anchor="start" font-family='"Liberation Serif", "Times New Roman", serif' fill="#111" textLength="145.8" lengthAdjust="spacingAndGlyphs" stroke="#111" stroke-width="0.3">Potential (mV)</text>
<text transform="translate(738.2,863.6) rotate(-90)" font-size="24.5" text-anchor="start" font-family='"Liberation Serif", "Times New Roman", serif' fill="#111" textLength="196" lengthAdjust="spacingAndGlyphs" stroke="#111" stroke-width="0.3">Data histogram (%)</text>
<rect x="0" y="0" width="1080" height="1.25" fill="#686868"/>
<rect x="0" y="0" width="1.5" height="938" fill="#646464"/>
<text transform="translate(8.9,26.7)" font-size="24.8" text-anchor="start" font-family='"Liberation Sans", Arial, sans-serif' fill="#111" stroke="#111" stroke-width="0.3">a)</text>
<text transform="translate(708,27.6)" font-size="24.8" text-anchor="start" font-family='"Liberation Sans", Arial, sans-serif' fill="#111" stroke="#111" stroke-width="0.3">b)</text>
<text transform="translate(9,351.1)" font-size="24.8" text-anchor="start" font-family='"Liberation Sans", Arial, sans-serif' fill="#111" stroke="#111" stroke-width="0.3">c)</text>
<text transform="translate(373,353.3)" font-size="24.8" text-anchor="start" font-family='"Liberation Sans", Arial, sans-serif' fill="#111" stroke="#111" stroke-width="0.3">d)</text>
<text transform="translate(710.7,353.3)" font-size="24.8" text-anchor="start" font-family='"Liberation Sans", Arial, sans-serif' fill="#111" stroke="#111" stroke-width="0.3">e)</text>
<text transform="translate(8.4,644.4)" font-size="24.8" text-anchor="start" font-family='"Liberation Sans", Arial, sans-serif' fill="#111" stroke="#111" stroke-width="0.3">f)</text>
<text transform="translate(366.2,644.4)" font-size="24.8" text-anchor="start" font-family='"Liberation Sans", Arial, sans-serif' fill="#111" stroke="#111" stroke-width="0.3">g)</text>
<text transform="translate(720.3,644.4)" font-size="24.8" text-anchor="start" font-family='"Liberation Sans", Arial, sans-serif' fill="#111" stroke="#111" stroke-width="0.3">h)</text>
</svg></body></html>
